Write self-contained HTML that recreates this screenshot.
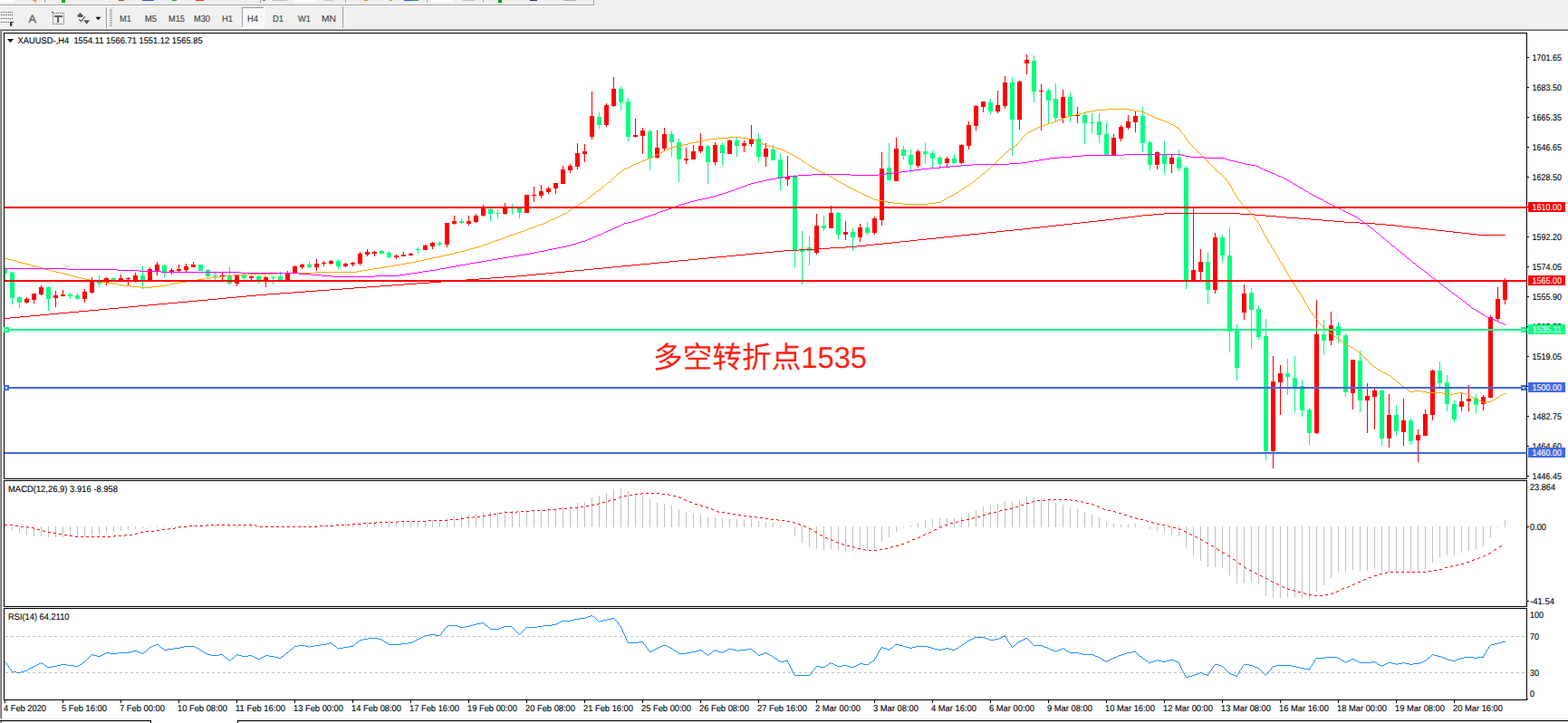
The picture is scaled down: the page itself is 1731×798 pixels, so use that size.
<!DOCTYPE html>
<html><head><meta charset="utf-8"><title>XAUUSD H4</title><style>html,body{margin:0;padding:0;background:#F0F0F0;overflow:hidden}body{width:1731px;height:798px;font-family:"Liberation Sans",sans-serif}</style></head><body><svg width="1731" height="798" viewBox="0 0 1731 798" font-family="Liberation Sans, sans-serif" text-rendering="geometricPrecision" style="display:block">
<rect width="1731" height="798" fill="#F0F0F0"/>
<g shape-rendering="crispEdges">
<rect x="0" y="5" width="655" height="1" fill="#A0A0A0"/><rect x="0" y="6" width="655" height="1" fill="#FFFFFF"/><rect x="655" y="0" width="1" height="6" fill="#A0A0A0"/>
<rect x="49" y="0" width="1" height="3" fill="#A0A0A0"/>
<rect x="287" y="0" width="1" height="3" fill="#A0A0A0"/>
<rect x="381" y="0" width="1" height="3" fill="#A0A0A0"/>
<rect x="471" y="0" width="1" height="3" fill="#A0A0A0"/>
<rect x="533" y="0" width="1" height="3" fill="#A0A0A0"/>
<rect x="0" y="0" width="16" height="2" fill="#FFFFFF"/>
<rect x="68" y="0" width="4" height="3" fill="#10B010"/>
<rect x="131" y="0" width="6" height="1" fill="#A05010"/>
<rect x="157" y="0" width="13" height="1" fill="#4060B0"/>
<rect x="190" y="0" width="5" height="1" fill="#20A020"/>
<rect x="216" y="0" width="9" height="1" fill="#D04020"/>
<rect x="290" y="0" width="3" height="1" fill="#808080"/>
<rect x="301" y="0" width="16" height="1" fill="#C0C0C0"/>
<rect x="325" y="0" width="24" height="2" fill="#FFFFFF"/>
<rect x="358" y="0" width="10" height="1" fill="#C8C8C8"/>
<rect x="402" y="0" width="4" height="1" fill="#E09020"/>
<rect x="430" y="0" width="3" height="1" fill="#E09020"/>
<rect x="446" y="0" width="9" height="1" fill="#2060D0"/>
<rect x="455" y="0" width="7" height="1" fill="#30A030"/>
<rect x="476" y="0" width="25" height="2" fill="#FFFFFF"/>
<rect x="511" y="0" width="13" height="1" fill="#C0C0C0"/>
<rect x="550" y="0" width="4" height="3" fill="#10A010"/>
<rect x="585" y="0" width="8" height="1" fill="#203870"/>
<rect x="622" y="0" width="14" height="1" fill="#B0B0B0"/>
<path d="M35 0 h5.5 l-1 2.6 z" fill="#E0A020"/>
<rect x="117" y="8" width="1" height="24" fill="#A0A0A0"/><rect x="118" y="8" width="1" height="24" fill="#FFFFFF"/>
<rect x="378" y="7" width="1" height="25" fill="#A0A0A0"/>
<rect x="121" y="10" width="3" height="1" fill="#A0A0A0"/>
<rect x="121" y="12" width="3" height="1" fill="#A0A0A0"/>
<rect x="121" y="14" width="3" height="1" fill="#A0A0A0"/>
<rect x="121" y="16" width="3" height="1" fill="#A0A0A0"/>
<rect x="121" y="18" width="3" height="1" fill="#A0A0A0"/>
<rect x="121" y="20" width="3" height="1" fill="#A0A0A0"/>
<rect x="121" y="22" width="3" height="1" fill="#A0A0A0"/>
<rect x="121" y="24" width="3" height="1" fill="#A0A0A0"/>
<rect x="121" y="26" width="3" height="1" fill="#A0A0A0"/>
<rect x="121" y="28" width="3" height="1" fill="#A0A0A0"/>
<rect x="267" y="8" width="25" height="23" fill="#F8F8F8"/><rect x="267" y="8" width="25" height="1" fill="#A0A0A0"/><rect x="267" y="8" width="1" height="23" fill="#A0A0A0"/><rect x="291" y="8" width="1" height="23" fill="#FFFFFF"/><rect x="267" y="30" width="25" height="1" fill="#FFFFFF"/>
<rect x="1" y="13" width="1" height="1" fill="#505050"/>
<rect x="3" y="13" width="1" height="1" fill="#505050"/>
<rect x="5" y="13" width="1" height="1" fill="#505050"/>
<rect x="7" y="13" width="1" height="1" fill="#505050"/>
<rect x="9" y="13" width="1" height="1" fill="#505050"/>
<rect x="11" y="13" width="1" height="1" fill="#505050"/>
<rect x="13" y="13" width="1" height="1" fill="#505050"/>
<rect x="1" y="16" width="1" height="1" fill="#505050"/>
<rect x="3" y="16" width="1" height="1" fill="#505050"/>
<rect x="5" y="16" width="1" height="1" fill="#505050"/>
<rect x="7" y="16" width="1" height="1" fill="#505050"/>
<rect x="9" y="16" width="1" height="1" fill="#505050"/>
<rect x="11" y="16" width="1" height="1" fill="#505050"/>
<rect x="13" y="16" width="1" height="1" fill="#505050"/>
<rect x="1" y="20" width="1" height="1" fill="#505050"/>
<rect x="3" y="20" width="1" height="1" fill="#505050"/>
<rect x="5" y="20" width="1" height="1" fill="#505050"/>
<rect x="7" y="20" width="1" height="1" fill="#505050"/>
<rect x="9" y="20" width="1" height="1" fill="#505050"/>
<rect x="11" y="20" width="1" height="1" fill="#505050"/>
<rect x="13" y="20" width="1" height="1" fill="#505050"/>
<rect x="1" y="24" width="1" height="1" fill="#505050"/>
<rect x="3" y="24" width="1" height="1" fill="#505050"/>
<rect x="5" y="24" width="1" height="1" fill="#505050"/>
<rect x="7" y="24" width="1" height="1" fill="#505050"/>
<rect x="9" y="24" width="1" height="1" fill="#505050"/>
<rect x="11" y="24" width="1.5" height="5" fill="#404040"/><rect x="11" y="24" width="4" height="1.2" fill="#404040"/><rect x="11" y="26" width="3" height="1" fill="#404040"/>
<rect x="58" y="14" width="1" height="1" fill="#505050"/><rect x="58" y="26" width="1" height="1" fill="#505050"/>
<rect x="60" y="14" width="1" height="1" fill="#505050"/><rect x="60" y="26" width="1" height="1" fill="#505050"/>
<rect x="62" y="14" width="1" height="1" fill="#505050"/><rect x="62" y="26" width="1" height="1" fill="#505050"/>
<rect x="64" y="14" width="1" height="1" fill="#505050"/><rect x="64" y="26" width="1" height="1" fill="#505050"/>
<rect x="66" y="14" width="1" height="1" fill="#505050"/><rect x="66" y="26" width="1" height="1" fill="#505050"/>
<rect x="68" y="14" width="1" height="1" fill="#505050"/><rect x="68" y="26" width="1" height="1" fill="#505050"/>
<rect x="70" y="14" width="1" height="1" fill="#505050"/><rect x="70" y="26" width="1" height="1" fill="#505050"/>
<rect x="58" y="14" width="1" height="1" fill="#505050"/><rect x="70" y="14" width="1" height="1" fill="#505050"/>
<rect x="58" y="16" width="1" height="1" fill="#505050"/><rect x="70" y="16" width="1" height="1" fill="#505050"/>
<rect x="58" y="18" width="1" height="1" fill="#505050"/><rect x="70" y="18" width="1" height="1" fill="#505050"/>
<rect x="58" y="20" width="1" height="1" fill="#505050"/><rect x="70" y="20" width="1" height="1" fill="#505050"/>
<rect x="58" y="22" width="1" height="1" fill="#505050"/><rect x="70" y="22" width="1" height="1" fill="#505050"/>
<rect x="58" y="24" width="1" height="1" fill="#505050"/><rect x="70" y="24" width="1" height="1" fill="#505050"/>
<rect x="58" y="26" width="1" height="1" fill="#505050"/><rect x="70" y="26" width="1" height="1" fill="#505050"/>
<rect x="57" y="13" width="2" height="1" fill="#505050"/>
<rect x="60" y="17" width="8.5" height="1.8" fill="#606060"/><rect x="63" y="17" width="2.2" height="7.7" fill="#606060"/>
</g>
<text transform="translate(31.6 25) scale(1 1)" fill="#606060" font-size="12.5" text-anchor="start" stroke="#606060" stroke-width="0.35">A</text>
<path d="M85 17.6 l3.6 -3.6 l3.6 3.6 l-1.6 1.4 h-4 z M92.2 22.3 h7 l-3.5 4.5 z" fill="#585858"/><path d="M87.3 21.6 l2.2 2 l4.2 -5.2" stroke="#585858" stroke-width="1.3" fill="none"/>
<path d="M105.6 18.8 h5.8 l-2.9 3.5 z" fill="#000"/>
<text transform="translate(132 24) scale(1 1)" fill="#404040" font-size="10.2" text-anchor="start" textLength="13" lengthAdjust="spacingAndGlyphs" stroke="#404040" stroke-width="0.12">M1</text>
<text transform="translate(160 24) scale(1 1)" fill="#404040" font-size="10.2" text-anchor="start" textLength="13" lengthAdjust="spacingAndGlyphs" stroke="#404040" stroke-width="0.12">M5</text>
<text transform="translate(186 24) scale(1 1)" fill="#404040" font-size="10.2" text-anchor="start" textLength="18" lengthAdjust="spacingAndGlyphs" stroke="#404040" stroke-width="0.12">M15</text>
<text transform="translate(214 24) scale(1 1)" fill="#404040" font-size="10.2" text-anchor="start" textLength="18" lengthAdjust="spacingAndGlyphs" stroke="#404040" stroke-width="0.12">M30</text>
<text transform="translate(245 24) scale(1 1)" fill="#404040" font-size="10.2" text-anchor="start" textLength="12" lengthAdjust="spacingAndGlyphs" stroke="#404040" stroke-width="0.12">H1</text>
<text transform="translate(273 24) scale(1 1)" fill="#404040" font-size="10.2" text-anchor="start" textLength="12" lengthAdjust="spacingAndGlyphs" stroke="#404040" stroke-width="0.12">H4</text>
<text transform="translate(301 24) scale(1 1)" fill="#404040" font-size="10.2" text-anchor="start" textLength="12" lengthAdjust="spacingAndGlyphs" stroke="#404040" stroke-width="0.12">D1</text>
<text transform="translate(329 24) scale(1 1)" fill="#404040" font-size="10.2" text-anchor="start" textLength="14" lengthAdjust="spacingAndGlyphs" stroke="#404040" stroke-width="0.12">W1</text>
<text transform="translate(355 24) scale(1 1)" fill="#404040" font-size="10.2" text-anchor="start" textLength="16" lengthAdjust="spacingAndGlyphs" stroke="#404040" stroke-width="0.12">MN</text>
<g shape-rendering="crispEdges">
<rect x="0" y="31" width="1731" height="1" fill="#F6F6F6"/><rect x="0" y="32" width="1731" height="1" fill="#A0A0A0"/><rect x="0" y="33" width="1731" height="1" fill="#696969"/>
<rect x="0" y="32" width="1" height="766" fill="#A0A0A0"/><rect x="1" y="33" width="1" height="765" fill="#696969"/>
<rect x="2" y="34" width="1729" height="759" fill="#FFFFFF"/>
<rect x="4" y="36" width="1682" height="1" fill="#000"/>
<rect x="4" y="528" width="1682" height="1" fill="#000"/>
<rect x="4" y="36" width="1" height="493" fill="#000"/>
<rect x="1685" y="36" width="1" height="493" fill="#000"/>
<rect x="4" y="530" width="1682" height="1" fill="#000"/>
<rect x="4" y="669" width="1682" height="1" fill="#000"/>
<rect x="4" y="530" width="1" height="140" fill="#000"/>
<rect x="1685" y="530" width="1" height="140" fill="#000"/>
<rect x="4" y="671" width="1682" height="1" fill="#000"/>
<rect x="4" y="772" width="1682" height="1" fill="#000"/>
<rect x="4" y="671" width="1" height="102" fill="#000"/>
<rect x="1685" y="671" width="1" height="102" fill="#000"/>
<rect x="0" y="793" width="1731" height="2" fill="#EAEAEA"/>
<rect x="0" y="795" width="1731" height="3" fill="#F0F0F0"/>
<rect x="0" y="795" width="167" height="1" fill="#000"/>
<rect x="262" y="795" width="1469" height="1" fill="#000"/>
<rect x="166" y="795" width="1" height="3" fill="#000"/>
<rect x="262" y="795" width="1" height="3" fill="#000"/>
<rect x="0" y="796" width="1" height="2" fill="#A0A0A0"/>
<rect x="1" y="796" width="1" height="2" fill="#808080"/>
<rect x="167" y="793" width="95" height="5" fill="#FFFFFF"/>
<rect x="1686" y="63" width="2" height="1" fill="#000"/>
<rect x="1686" y="96" width="2" height="1" fill="#000"/>
<rect x="1686" y="129" width="2" height="1" fill="#000"/>
<rect x="1686" y="162" width="2" height="1" fill="#000"/>
<rect x="1686" y="195" width="2" height="1" fill="#000"/>
<rect x="1686" y="228" width="2" height="1" fill="#000"/>
<rect x="1686" y="261" width="2" height="1" fill="#000"/>
<rect x="1686" y="294" width="2" height="1" fill="#000"/>
<rect x="1686" y="327" width="2" height="1" fill="#000"/>
<rect x="1686" y="360" width="2" height="1" fill="#000"/>
<rect x="1686" y="393" width="2" height="1" fill="#000"/>
<rect x="1686" y="426" width="2" height="1" fill="#000"/>
<rect x="1686" y="459" width="2" height="1" fill="#000"/>
<rect x="1686" y="492" width="2" height="1" fill="#000"/>
<rect x="1686" y="525" width="2" height="1" fill="#000"/>
<rect x="1686" y="581" width="2" height="1" fill="#000"/>
<rect x="1686" y="663" width="2" height="1" fill="#000"/>
<rect x="1686" y="771" width="1" height="1" fill="#000"/>
<rect x="5" y="773" width="1" height="3" fill="#000"/>
<rect x="69" y="773" width="1" height="3" fill="#000"/>
<rect x="133" y="773" width="1" height="3" fill="#000"/>
<rect x="197" y="773" width="1" height="3" fill="#000"/>
<rect x="261" y="773" width="1" height="3" fill="#000"/>
<rect x="325" y="773" width="1" height="3" fill="#000"/>
<rect x="389" y="773" width="1" height="3" fill="#000"/>
<rect x="453" y="773" width="1" height="3" fill="#000"/>
<rect x="517" y="773" width="1" height="3" fill="#000"/>
<rect x="581" y="773" width="1" height="3" fill="#000"/>
<rect x="645" y="773" width="1" height="3" fill="#000"/>
<rect x="709" y="773" width="1" height="3" fill="#000"/>
<rect x="773" y="773" width="1" height="3" fill="#000"/>
<rect x="837" y="773" width="1" height="3" fill="#000"/>
<rect x="901" y="773" width="1" height="3" fill="#000"/>
<rect x="965" y="773" width="1" height="3" fill="#000"/>
<rect x="1029" y="773" width="1" height="3" fill="#000"/>
<rect x="1093" y="773" width="1" height="3" fill="#000"/>
<rect x="1157" y="773" width="1" height="3" fill="#000"/>
<rect x="1221" y="773" width="1" height="3" fill="#000"/>
<rect x="1285" y="773" width="1" height="3" fill="#000"/>
<rect x="1349" y="773" width="1" height="3" fill="#000"/>
<rect x="1413" y="773" width="1" height="3" fill="#000"/>
<rect x="1477" y="773" width="1" height="3" fill="#000"/>
<rect x="1541" y="773" width="1" height="3" fill="#000"/>
<rect x="1605" y="773" width="1" height="3" fill="#000"/>
</g>
<text transform="translate(1691.6 67) scale(1 1)" fill="#000" font-size="9.8" text-anchor="start" textLength="32.3" lengthAdjust="spacingAndGlyphs" stroke="#000" stroke-width="0.12">1701.65</text>
<text transform="translate(1691.6 100) scale(1 1)" fill="#000" font-size="9.8" text-anchor="start" textLength="32.3" lengthAdjust="spacingAndGlyphs" stroke="#000" stroke-width="0.12">1683.50</text>
<text transform="translate(1691.6 133) scale(1 1)" fill="#000" font-size="9.8" text-anchor="start" textLength="32.3" lengthAdjust="spacingAndGlyphs" stroke="#000" stroke-width="0.12">1665.35</text>
<text transform="translate(1691.6 166) scale(1 1)" fill="#000" font-size="9.8" text-anchor="start" textLength="32.3" lengthAdjust="spacingAndGlyphs" stroke="#000" stroke-width="0.12">1646.65</text>
<text transform="translate(1691.6 199) scale(1 1)" fill="#000" font-size="9.8" text-anchor="start" textLength="32.3" lengthAdjust="spacingAndGlyphs" stroke="#000" stroke-width="0.12">1628.50</text>
<text transform="translate(1691.6 232) scale(1 1)" fill="#000" font-size="9.8" text-anchor="start" textLength="32.3" lengthAdjust="spacingAndGlyphs" stroke="#000" stroke-width="0.12">1610.35</text>
<text transform="translate(1691.6 265) scale(1 1)" fill="#000" font-size="9.8" text-anchor="start" textLength="32.3" lengthAdjust="spacingAndGlyphs" stroke="#000" stroke-width="0.12">1592.20</text>
<text transform="translate(1691.6 298) scale(1 1)" fill="#000" font-size="9.8" text-anchor="start" textLength="32.3" lengthAdjust="spacingAndGlyphs" stroke="#000" stroke-width="0.12">1574.05</text>
<text transform="translate(1691.6 331) scale(1 1)" fill="#000" font-size="9.8" text-anchor="start" textLength="32.3" lengthAdjust="spacingAndGlyphs" stroke="#000" stroke-width="0.12">1555.90</text>
<text transform="translate(1691.6 364) scale(1 1)" fill="#000" font-size="9.8" text-anchor="start" textLength="32.3" lengthAdjust="spacingAndGlyphs" stroke="#000" stroke-width="0.12">1537.75</text>
<text transform="translate(1691.6 397) scale(1 1)" fill="#000" font-size="9.8" text-anchor="start" textLength="32.3" lengthAdjust="spacingAndGlyphs" stroke="#000" stroke-width="0.12">1519.05</text>
<text transform="translate(1691.6 430) scale(1 1)" fill="#000" font-size="9.8" text-anchor="start" textLength="32.3" lengthAdjust="spacingAndGlyphs" stroke="#000" stroke-width="0.12">1500.90</text>
<text transform="translate(1691.6 463) scale(1 1)" fill="#000" font-size="9.8" text-anchor="start" textLength="32.3" lengthAdjust="spacingAndGlyphs" stroke="#000" stroke-width="0.12">1482.75</text>
<text transform="translate(1691.6 496) scale(1 1)" fill="#000" font-size="9.8" text-anchor="start" textLength="32.3" lengthAdjust="spacingAndGlyphs" stroke="#000" stroke-width="0.12">1464.60</text>
<text transform="translate(1691.6 529) scale(1 1)" fill="#000" font-size="9.8" text-anchor="start" textLength="32.3" lengthAdjust="spacingAndGlyphs" stroke="#000" stroke-width="0.12">1446.45</text>
<text transform="translate(1689 541.3) scale(1 1)" fill="#000" font-size="9.8" text-anchor="start" textLength="28" lengthAdjust="spacingAndGlyphs" stroke="#000" stroke-width="0.12">23.864</text>
<text transform="translate(1689 585) scale(1 1)" fill="#000" font-size="9.8" text-anchor="start" textLength="18" lengthAdjust="spacingAndGlyphs" stroke="#000" stroke-width="0.12">0.00</text>
<text transform="translate(1689 666.7) scale(1 1)" fill="#000" font-size="9.8" text-anchor="start" textLength="27" lengthAdjust="spacingAndGlyphs" stroke="#000" stroke-width="0.12">-41.54</text>
<text transform="translate(1689 682.3) scale(1 1)" fill="#000" font-size="9.8" text-anchor="start" textLength="15" lengthAdjust="spacingAndGlyphs" stroke="#000" stroke-width="0.12">100</text>
<text transform="translate(1689 706.3) scale(1 1)" fill="#000" font-size="9.8" text-anchor="start" textLength="10" lengthAdjust="spacingAndGlyphs" stroke="#000" stroke-width="0.12">70</text>
<text transform="translate(1689 746.3) scale(1 1)" fill="#000" font-size="9.8" text-anchor="start" textLength="10" lengthAdjust="spacingAndGlyphs" stroke="#000" stroke-width="0.12">30</text>
<text transform="translate(1689 769.3) scale(1 1)" fill="#000" font-size="9.8" text-anchor="start" textLength="5" lengthAdjust="spacingAndGlyphs" stroke="#000" stroke-width="0.12">0</text>
<text transform="translate(4 785) scale(1 1)" fill="#000" font-size="9.8" text-anchor="start" textLength="47" lengthAdjust="spacingAndGlyphs" stroke="#000" stroke-width="0.12">4 Feb 2020</text>
<text transform="translate(68 785) scale(1 1)" fill="#000" font-size="9.8" text-anchor="start" textLength="50" lengthAdjust="spacingAndGlyphs" stroke="#000" stroke-width="0.12">5 Feb 16:00</text>
<text transform="translate(132 785) scale(1 1)" fill="#000" font-size="9.8" text-anchor="start" textLength="50" lengthAdjust="spacingAndGlyphs" stroke="#000" stroke-width="0.12">7 Feb 00:00</text>
<text transform="translate(196 785) scale(1 1)" fill="#000" font-size="9.8" text-anchor="start" textLength="55" lengthAdjust="spacingAndGlyphs" stroke="#000" stroke-width="0.12">10 Feb 08:00</text>
<text transform="translate(260 785) scale(1 1)" fill="#000" font-size="9.8" text-anchor="start" textLength="55" lengthAdjust="spacingAndGlyphs" stroke="#000" stroke-width="0.12">11 Feb 16:00</text>
<text transform="translate(324 785) scale(1 1)" fill="#000" font-size="9.8" text-anchor="start" textLength="55" lengthAdjust="spacingAndGlyphs" stroke="#000" stroke-width="0.12">13 Feb 00:00</text>
<text transform="translate(388 785) scale(1 1)" fill="#000" font-size="9.8" text-anchor="start" textLength="55" lengthAdjust="spacingAndGlyphs" stroke="#000" stroke-width="0.12">14 Feb 08:00</text>
<text transform="translate(452 785) scale(1 1)" fill="#000" font-size="9.8" text-anchor="start" textLength="55" lengthAdjust="spacingAndGlyphs" stroke="#000" stroke-width="0.12">17 Feb 16:00</text>
<text transform="translate(516 785) scale(1 1)" fill="#000" font-size="9.8" text-anchor="start" textLength="55" lengthAdjust="spacingAndGlyphs" stroke="#000" stroke-width="0.12">19 Feb 00:00</text>
<text transform="translate(580 785) scale(1 1)" fill="#000" font-size="9.8" text-anchor="start" textLength="55" lengthAdjust="spacingAndGlyphs" stroke="#000" stroke-width="0.12">20 Feb 08:00</text>
<text transform="translate(644 785) scale(1 1)" fill="#000" font-size="9.8" text-anchor="start" textLength="55" lengthAdjust="spacingAndGlyphs" stroke="#000" stroke-width="0.12">21 Feb 16:00</text>
<text transform="translate(708 785) scale(1 1)" fill="#000" font-size="9.8" text-anchor="start" textLength="55" lengthAdjust="spacingAndGlyphs" stroke="#000" stroke-width="0.12">25 Feb 00:00</text>
<text transform="translate(772 785) scale(1 1)" fill="#000" font-size="9.8" text-anchor="start" textLength="55" lengthAdjust="spacingAndGlyphs" stroke="#000" stroke-width="0.12">26 Feb 08:00</text>
<text transform="translate(836 785) scale(1 1)" fill="#000" font-size="9.8" text-anchor="start" textLength="55" lengthAdjust="spacingAndGlyphs" stroke="#000" stroke-width="0.12">27 Feb 16:00</text>
<text transform="translate(900 785) scale(1 1)" fill="#000" font-size="9.8" text-anchor="start" textLength="50" lengthAdjust="spacingAndGlyphs" stroke="#000" stroke-width="0.12">2 Mar 00:00</text>
<text transform="translate(964 785) scale(1 1)" fill="#000" font-size="9.8" text-anchor="start" textLength="50" lengthAdjust="spacingAndGlyphs" stroke="#000" stroke-width="0.12">3 Mar 08:00</text>
<text transform="translate(1028 785) scale(1 1)" fill="#000" font-size="9.8" text-anchor="start" textLength="50" lengthAdjust="spacingAndGlyphs" stroke="#000" stroke-width="0.12">4 Mar 16:00</text>
<text transform="translate(1092 785) scale(1 1)" fill="#000" font-size="9.8" text-anchor="start" textLength="50" lengthAdjust="spacingAndGlyphs" stroke="#000" stroke-width="0.12">6 Mar 00:00</text>
<text transform="translate(1156 785) scale(1 1)" fill="#000" font-size="9.8" text-anchor="start" textLength="50" lengthAdjust="spacingAndGlyphs" stroke="#000" stroke-width="0.12">9 Mar 08:00</text>
<text transform="translate(1220 785) scale(1 1)" fill="#000" font-size="9.8" text-anchor="start" textLength="55" lengthAdjust="spacingAndGlyphs" stroke="#000" stroke-width="0.12">10 Mar 16:00</text>
<text transform="translate(1284 785) scale(1 1)" fill="#000" font-size="9.8" text-anchor="start" textLength="55" lengthAdjust="spacingAndGlyphs" stroke="#000" stroke-width="0.12">12 Mar 00:00</text>
<text transform="translate(1348 785) scale(1 1)" fill="#000" font-size="9.8" text-anchor="start" textLength="55" lengthAdjust="spacingAndGlyphs" stroke="#000" stroke-width="0.12">13 Mar 08:00</text>
<text transform="translate(1412 785) scale(1 1)" fill="#000" font-size="9.8" text-anchor="start" textLength="55" lengthAdjust="spacingAndGlyphs" stroke="#000" stroke-width="0.12">16 Mar 16:00</text>
<text transform="translate(1476 785) scale(1 1)" fill="#000" font-size="9.8" text-anchor="start" textLength="55" lengthAdjust="spacingAndGlyphs" stroke="#000" stroke-width="0.12">18 Mar 00:00</text>
<text transform="translate(1540 785) scale(1 1)" fill="#000" font-size="9.8" text-anchor="start" textLength="55" lengthAdjust="spacingAndGlyphs" stroke="#000" stroke-width="0.12">19 Mar 08:00</text>
<text transform="translate(1604 785) scale(1 1)" fill="#000" font-size="9.8" text-anchor="start" textLength="55" lengthAdjust="spacingAndGlyphs" stroke="#000" stroke-width="0.12">20 Mar 16:00</text>
<path d="M8 43 h7 l-3.5 4 z" fill="#000"/>
<text transform="translate(19.6 48) scale(1 1)" fill="#000" font-size="9.8" text-anchor="start" textLength="204" lengthAdjust="spacingAndGlyphs" stroke="#000" stroke-width="0.12">XAUUSD-,H4&#160;&#160;1554.11 1566.71 1551.12 1565.85</text>
<text transform="translate(9 543) scale(1 1)" fill="#000" font-size="9.8" text-anchor="start" textLength="121" lengthAdjust="spacingAndGlyphs" stroke="#000" stroke-width="0.12">MACD(12,26,9) 3.916 -8.958</text>
<text transform="translate(9 684.2) scale(1 1)" fill="#000" font-size="9.8" text-anchor="start" textLength="67.5" lengthAdjust="spacingAndGlyphs" stroke="#000" stroke-width="0.12">RSI(14) 64.2110</text>
<defs><clipPath id="c1"><rect x="5" y="37" width="1681" height="491"/></clipPath><clipPath id="c2"><rect x="5" y="531" width="1680" height="138"/></clipPath><clipPath id="c3"><rect x="5" y="672" width="1680" height="100"/></clipPath></defs>
<g clip-path="url(#c1)">
<g shape-rendering="crispEdges">
<rect x="5" y="295" width="1" height="15" fill="#00FF7F"/><rect x="3" y="297" width="5" height="5" fill="#00FF7F"/>
<rect x="13" y="300" width="1" height="36" fill="#00FF7F"/><rect x="11" y="301" width="5" height="28" fill="#00FF7F"/>
<rect x="21" y="327" width="1" height="13" fill="#00FF7F"/><rect x="19" y="328" width="5" height="6" fill="#00FF7F"/>
<rect x="29" y="328" width="1" height="7" fill="#FF0000"/><rect x="27" y="330" width="5" height="4" fill="#FF0000"/>
<rect x="37" y="324" width="1" height="11" fill="#FF0000"/><rect x="35" y="324" width="5" height="7" fill="#FF0000"/>
<rect x="45" y="315" width="1" height="11" fill="#FF0000"/><rect x="43" y="317" width="5" height="8" fill="#FF0000"/>
<rect x="53" y="316" width="1" height="27" fill="#00FF7F"/><rect x="51" y="317" width="5" height="13" fill="#00FF7F"/>
<rect x="61" y="321" width="1" height="18" fill="#FF0000"/><rect x="59" y="326" width="5" height="3" fill="#FF0000"/>
<rect x="69" y="320" width="1" height="7" fill="#FF0000"/><rect x="67" y="325" width="5" height="2" fill="#FF0000"/>
<rect x="77" y="323" width="1" height="7" fill="#00FF7F"/><rect x="75" y="325" width="5" height="2" fill="#00FF7F"/>
<rect x="85" y="323" width="1" height="8" fill="#00FF7F"/><rect x="83" y="326" width="5" height="4" fill="#00FF7F"/>
<rect x="93" y="319" width="1" height="15" fill="#FF0000"/><rect x="91" y="322" width="5" height="8" fill="#FF0000"/>
<rect x="101" y="306" width="1" height="18" fill="#FF0000"/><rect x="99" y="310" width="5" height="13" fill="#FF0000"/>
<rect x="109" y="304" width="1" height="13" fill="#00FF7F"/><rect x="107" y="311" width="5" height="2" fill="#00FF7F"/>
<rect x="117" y="306" width="1" height="9" fill="#FF0000"/><rect x="115" y="307" width="5" height="5" fill="#FF0000"/>
<rect x="125" y="306" width="1" height="3" fill="#00FF7F"/><rect x="123" y="307" width="5" height="2" fill="#00FF7F"/>
<rect x="133" y="303" width="1" height="7" fill="#FF0000"/><rect x="131" y="307" width="5" height="3" fill="#FF0000"/>
<rect x="141" y="306" width="1" height="9" fill="#FF0000"/><rect x="139" y="307" width="5" height="1" fill="#FF0000"/>
<rect x="149" y="301" width="1" height="11" fill="#FF0000"/><rect x="147" y="304" width="5" height="7" fill="#FF0000"/>
<rect x="157" y="294" width="1" height="25" fill="#00FF7F"/><rect x="155" y="304" width="5" height="5" fill="#00FF7F"/>
<rect x="165" y="295" width="1" height="15" fill="#FF0000"/><rect x="163" y="297" width="5" height="13" fill="#FF0000"/>
<rect x="173" y="289" width="1" height="15" fill="#FF0000"/><rect x="171" y="292" width="5" height="7" fill="#FF0000"/>
<rect x="181" y="292" width="1" height="14" fill="#00FF7F"/><rect x="179" y="293" width="5" height="7" fill="#00FF7F"/>
<rect x="189" y="296" width="1" height="7" fill="#FF0000"/><rect x="187" y="298" width="5" height="2" fill="#FF0000"/>
<rect x="197" y="292" width="1" height="8" fill="#FF0000"/><rect x="195" y="297" width="5" height="2" fill="#FF0000"/>
<rect x="205" y="291" width="1" height="9" fill="#FF0000"/><rect x="203" y="294" width="5" height="4" fill="#FF0000"/>
<rect x="213" y="289" width="1" height="6" fill="#FF0000"/><rect x="211" y="292" width="5" height="3" fill="#FF0000"/>
<rect x="221" y="292" width="1" height="7" fill="#00FF7F"/><rect x="219" y="292" width="5" height="7" fill="#00FF7F"/>
<rect x="229" y="297" width="1" height="10" fill="#00FF7F"/><rect x="227" y="298" width="5" height="7" fill="#00FF7F"/>
<rect x="237" y="301" width="1" height="8" fill="#00FF7F"/><rect x="235" y="304" width="5" height="1" fill="#00FF7F"/>
<rect x="245" y="301" width="1" height="8" fill="#FF0000"/><rect x="243" y="304" width="5" height="1" fill="#FF0000"/>
<rect x="253" y="294" width="1" height="21" fill="#00FF7F"/><rect x="251" y="305" width="5" height="8" fill="#00FF7F"/>
<rect x="261" y="304" width="1" height="12" fill="#FF0000"/><rect x="259" y="304" width="5" height="9" fill="#FF0000"/>
<rect x="269" y="302" width="1" height="7" fill="#00FF7F"/><rect x="267" y="303" width="5" height="4" fill="#00FF7F"/>
<rect x="277" y="304" width="1" height="5" fill="#FF0000"/><rect x="275" y="305" width="5" height="2" fill="#FF0000"/>
<rect x="285" y="304" width="1" height="9" fill="#00FF7F"/><rect x="283" y="305" width="5" height="4" fill="#00FF7F"/>
<rect x="293" y="305" width="1" height="12" fill="#FF0000"/><rect x="291" y="306" width="5" height="4" fill="#FF0000"/>
<rect x="301" y="304" width="1" height="10" fill="#00FF7F"/><rect x="299" y="306" width="5" height="1" fill="#00FF7F"/>
<rect x="309" y="300" width="1" height="9" fill="#00FF7F"/><rect x="307" y="305" width="5" height="4" fill="#00FF7F"/>
<rect x="317" y="299" width="1" height="11" fill="#FF0000"/><rect x="315" y="301" width="5" height="9" fill="#FF0000"/>
<rect x="325" y="293" width="1" height="9" fill="#FF0000"/><rect x="323" y="294" width="5" height="8" fill="#FF0000"/>
<rect x="333" y="291" width="1" height="6" fill="#FF0000"/><rect x="331" y="292" width="5" height="3" fill="#FF0000"/>
<rect x="341" y="288" width="1" height="8" fill="#00FF7F"/><rect x="339" y="292" width="5" height="3" fill="#00FF7F"/>
<rect x="349" y="286" width="1" height="13" fill="#FF0000"/><rect x="347" y="291" width="5" height="4" fill="#FF0000"/>
<rect x="357" y="288" width="1" height="6" fill="#FF0000"/><rect x="355" y="290" width="5" height="1" fill="#FF0000"/>
<rect x="365" y="287" width="1" height="5" fill="#FF0000"/><rect x="363" y="288" width="5" height="3" fill="#FF0000"/>
<rect x="373" y="286" width="1" height="11" fill="#00FF7F"/><rect x="371" y="288" width="5" height="6" fill="#00FF7F"/>
<rect x="381" y="290" width="1" height="5" fill="#FF0000"/><rect x="379" y="291" width="5" height="3" fill="#FF0000"/>
<rect x="389" y="289" width="1" height="5" fill="#FF0000"/><rect x="387" y="290" width="5" height="2" fill="#FF0000"/>
<rect x="397" y="278" width="1" height="15" fill="#FF0000"/><rect x="395" y="280" width="5" height="11" fill="#FF0000"/>
<rect x="405" y="275" width="1" height="8" fill="#FF0000"/><rect x="403" y="278" width="5" height="3" fill="#FF0000"/>
<rect x="413" y="277" width="1" height="6" fill="#FF0000"/><rect x="411" y="278" width="5" height="2" fill="#FF0000"/>
<rect x="421" y="276" width="1" height="5" fill="#00FF7F"/><rect x="419" y="277" width="5" height="3" fill="#00FF7F"/>
<rect x="429" y="277" width="1" height="8" fill="#00FF7F"/><rect x="427" y="279" width="5" height="5" fill="#00FF7F"/>
<rect x="437" y="281" width="1" height="5" fill="#FF0000"/><rect x="435" y="282" width="5" height="2" fill="#FF0000"/>
<rect x="445" y="278" width="1" height="5" fill="#FF0000"/><rect x="443" y="281" width="5" height="2" fill="#FF0000"/>
<rect x="453" y="279" width="1" height="3" fill="#FF0000"/><rect x="451" y="280" width="5" height="2" fill="#FF0000"/>
<rect x="461" y="273" width="1" height="7" fill="#00FF7F"/><rect x="459" y="275" width="5" height="1" fill="#00FF7F"/>
<rect x="469" y="270" width="1" height="6" fill="#FF0000"/><rect x="467" y="271" width="5" height="5" fill="#FF0000"/>
<rect x="477" y="267" width="1" height="8" fill="#FF0000"/><rect x="475" y="268" width="5" height="4" fill="#FF0000"/>
<rect x="485" y="266" width="1" height="6" fill="#00FF7F"/><rect x="483" y="268" width="5" height="2" fill="#00FF7F"/>
<rect x="493" y="246" width="1" height="27" fill="#FF0000"/><rect x="491" y="246" width="5" height="24" fill="#FF0000"/>
<rect x="501" y="238" width="1" height="10" fill="#FF0000"/><rect x="499" y="244" width="5" height="3" fill="#FF0000"/>
<rect x="509" y="241" width="1" height="6" fill="#00FF7F"/><rect x="507" y="244" width="5" height="2" fill="#00FF7F"/>
<rect x="517" y="238" width="1" height="11" fill="#FF0000"/><rect x="515" y="244" width="5" height="3" fill="#FF0000"/>
<rect x="525" y="236" width="1" height="10" fill="#FF0000"/><rect x="523" y="238" width="5" height="7" fill="#FF0000"/>
<rect x="533" y="226" width="1" height="13" fill="#FF0000"/><rect x="531" y="230" width="5" height="8" fill="#FF0000"/>
<rect x="541" y="229" width="1" height="15" fill="#00FF7F"/><rect x="539" y="231" width="5" height="5" fill="#00FF7F"/>
<rect x="549" y="231" width="1" height="10" fill="#00FF7F"/><rect x="547" y="235" width="5" height="1" fill="#00FF7F"/>
<rect x="557" y="224" width="1" height="13" fill="#FF0000"/><rect x="555" y="230" width="5" height="6" fill="#FF0000"/>
<rect x="565" y="225" width="1" height="12" fill="#00FF7F"/><rect x="563" y="229" width="5" height="1" fill="#00FF7F"/>
<rect x="573" y="230" width="1" height="11" fill="#00FF7F"/><rect x="571" y="230" width="5" height="5" fill="#00FF7F"/>
<rect x="581" y="215" width="1" height="20" fill="#FF0000"/><rect x="579" y="215" width="5" height="20" fill="#FF0000"/>
<rect x="589" y="206" width="1" height="17" fill="#FF0000"/><rect x="587" y="215" width="5" height="1" fill="#FF0000"/>
<rect x="597" y="204" width="1" height="15" fill="#FF0000"/><rect x="595" y="211" width="5" height="5" fill="#FF0000"/>
<rect x="605" y="206" width="1" height="8" fill="#FF0000"/><rect x="603" y="208" width="5" height="4" fill="#FF0000"/>
<rect x="613" y="202" width="1" height="12" fill="#FF0000"/><rect x="611" y="202" width="5" height="6" fill="#FF0000"/>
<rect x="621" y="183" width="1" height="20" fill="#FF0000"/><rect x="619" y="187" width="5" height="16" fill="#FF0000"/>
<rect x="629" y="181" width="1" height="10" fill="#FF0000"/><rect x="627" y="183" width="5" height="5" fill="#FF0000"/>
<rect x="637" y="158" width="1" height="29" fill="#FF0000"/><rect x="635" y="169" width="5" height="15" fill="#FF0000"/>
<rect x="645" y="159" width="1" height="20" fill="#FF0000"/><rect x="643" y="167" width="5" height="3" fill="#FF0000"/>
<rect x="653" y="101" width="1" height="53" fill="#FF0000"/><rect x="651" y="128" width="5" height="23" fill="#FF0000"/>
<rect x="661" y="124" width="1" height="18" fill="#00FF7F"/><rect x="659" y="129" width="5" height="9" fill="#00FF7F"/>
<rect x="669" y="114" width="1" height="26" fill="#FF0000"/><rect x="667" y="116" width="5" height="22" fill="#FF0000"/>
<rect x="677" y="85" width="1" height="33" fill="#FF0000"/><rect x="675" y="98" width="5" height="19" fill="#FF0000"/>
<rect x="685" y="95" width="1" height="27" fill="#00FF7F"/><rect x="683" y="98" width="5" height="15" fill="#00FF7F"/>
<rect x="693" y="108" width="1" height="48" fill="#00FF7F"/><rect x="691" y="112" width="5" height="39" fill="#00FF7F"/>
<rect x="701" y="131" width="1" height="21" fill="#FF0000"/><rect x="699" y="149" width="5" height="2" fill="#FF0000"/>
<rect x="709" y="141" width="1" height="29" fill="#FF0000"/><rect x="707" y="144" width="5" height="6" fill="#FF0000"/>
<rect x="717" y="143" width="1" height="45" fill="#00FF7F"/><rect x="715" y="145" width="5" height="30" fill="#00FF7F"/>
<rect x="725" y="144" width="1" height="31" fill="#FF0000"/><rect x="723" y="163" width="5" height="11" fill="#FF0000"/>
<rect x="733" y="141" width="1" height="26" fill="#FF0000"/><rect x="731" y="148" width="5" height="16" fill="#FF0000"/>
<rect x="741" y="144" width="1" height="29" fill="#00FF7F"/><rect x="739" y="148" width="5" height="9" fill="#00FF7F"/>
<rect x="749" y="153" width="1" height="48" fill="#00FF7F"/><rect x="747" y="157" width="5" height="19" fill="#00FF7F"/>
<rect x="757" y="163" width="1" height="18" fill="#FF0000"/><rect x="755" y="175" width="5" height="2" fill="#FF0000"/>
<rect x="765" y="160" width="1" height="16" fill="#FF0000"/><rect x="763" y="167" width="5" height="9" fill="#FF0000"/>
<rect x="773" y="147" width="1" height="22" fill="#FF0000"/><rect x="771" y="161" width="5" height="6" fill="#FF0000"/>
<rect x="781" y="160" width="1" height="43" fill="#00FF7F"/><rect x="779" y="161" width="5" height="18" fill="#00FF7F"/>
<rect x="789" y="157" width="1" height="25" fill="#FF0000"/><rect x="787" y="160" width="5" height="19" fill="#FF0000"/>
<rect x="797" y="158" width="1" height="25" fill="#00FF7F"/><rect x="795" y="160" width="5" height="9" fill="#00FF7F"/>
<rect x="805" y="154" width="1" height="16" fill="#FF0000"/><rect x="803" y="155" width="5" height="15" fill="#FF0000"/>
<rect x="813" y="152" width="1" height="21" fill="#00FF7F"/><rect x="811" y="155" width="5" height="6" fill="#00FF7F"/>
<rect x="821" y="155" width="1" height="13" fill="#FF0000"/><rect x="819" y="158" width="5" height="3" fill="#FF0000"/>
<rect x="829" y="138" width="1" height="24" fill="#FF0000"/><rect x="827" y="153" width="5" height="6" fill="#FF0000"/>
<rect x="837" y="147" width="1" height="32" fill="#00FF7F"/><rect x="835" y="153" width="5" height="20" fill="#00FF7F"/>
<rect x="845" y="158" width="1" height="26" fill="#FF0000"/><rect x="843" y="164" width="5" height="9" fill="#FF0000"/>
<rect x="853" y="160" width="1" height="17" fill="#00FF7F"/><rect x="851" y="165" width="5" height="12" fill="#00FF7F"/>
<rect x="861" y="170" width="1" height="40" fill="#00FF7F"/><rect x="859" y="176" width="5" height="21" fill="#00FF7F"/>
<rect x="869" y="172" width="1" height="33" fill="#FF0000"/><rect x="867" y="195" width="5" height="3" fill="#FF0000"/>
<rect x="877" y="193" width="1" height="103" fill="#00FF7F"/><rect x="875" y="194" width="5" height="82" fill="#00FF7F"/>
<rect x="885" y="255" width="1" height="59" fill="#00FF7F"/><rect x="883" y="276" width="5" height="2" fill="#00FF7F"/>
<rect x="893" y="260" width="1" height="33" fill="#00FF7F"/><rect x="891" y="273" width="5" height="4" fill="#00FF7F"/>
<rect x="901" y="236" width="1" height="45" fill="#FF0000"/><rect x="899" y="249" width="5" height="30" fill="#FF0000"/>
<rect x="909" y="238" width="1" height="17" fill="#00FF7F"/><rect x="907" y="249" width="5" height="3" fill="#00FF7F"/>
<rect x="917" y="227" width="1" height="25" fill="#FF0000"/><rect x="915" y="235" width="5" height="17" fill="#FF0000"/>
<rect x="925" y="234" width="1" height="30" fill="#00FF7F"/><rect x="923" y="235" width="5" height="24" fill="#00FF7F"/>
<rect x="933" y="244" width="1" height="21" fill="#FF0000"/><rect x="931" y="256" width="5" height="3" fill="#FF0000"/>
<rect x="941" y="252" width="1" height="25" fill="#00FF7F"/><rect x="939" y="256" width="5" height="6" fill="#00FF7F"/>
<rect x="949" y="247" width="1" height="20" fill="#FF0000"/><rect x="947" y="251" width="5" height="11" fill="#FF0000"/>
<rect x="957" y="245" width="1" height="15" fill="#00FF7F"/><rect x="955" y="251" width="5" height="6" fill="#00FF7F"/>
<rect x="965" y="239" width="1" height="20" fill="#FF0000"/><rect x="963" y="241" width="5" height="16" fill="#FF0000"/>
<rect x="973" y="168" width="1" height="81" fill="#FF0000"/><rect x="971" y="186" width="5" height="57" fill="#FF0000"/>
<rect x="981" y="158" width="1" height="41" fill="#00FF7F"/><rect x="979" y="185" width="5" height="14" fill="#00FF7F"/>
<rect x="989" y="152" width="1" height="48" fill="#FF0000"/><rect x="987" y="164" width="5" height="36" fill="#FF0000"/>
<rect x="997" y="161" width="1" height="15" fill="#00FF7F"/><rect x="995" y="165" width="5" height="7" fill="#00FF7F"/>
<rect x="1005" y="165" width="1" height="25" fill="#00FF7F"/><rect x="1003" y="171" width="5" height="11" fill="#00FF7F"/>
<rect x="1013" y="165" width="1" height="20" fill="#FF0000"/><rect x="1011" y="167" width="5" height="16" fill="#FF0000"/>
<rect x="1021" y="158" width="1" height="23" fill="#00FF7F"/><rect x="1019" y="167" width="5" height="3" fill="#00FF7F"/>
<rect x="1029" y="166" width="1" height="20" fill="#00FF7F"/><rect x="1027" y="169" width="5" height="6" fill="#00FF7F"/>
<rect x="1037" y="172" width="1" height="13" fill="#00FF7F"/><rect x="1035" y="174" width="5" height="7" fill="#00FF7F"/>
<rect x="1045" y="173" width="1" height="11" fill="#FF0000"/><rect x="1043" y="175" width="5" height="5" fill="#FF0000"/>
<rect x="1053" y="170" width="1" height="11" fill="#00FF7F"/><rect x="1051" y="175" width="5" height="5" fill="#00FF7F"/>
<rect x="1061" y="159" width="1" height="22" fill="#FF0000"/><rect x="1059" y="160" width="5" height="20" fill="#FF0000"/>
<rect x="1069" y="134" width="1" height="31" fill="#FF0000"/><rect x="1067" y="138" width="5" height="23" fill="#FF0000"/>
<rect x="1077" y="116" width="1" height="28" fill="#FF0000"/><rect x="1075" y="117" width="5" height="22" fill="#FF0000"/>
<rect x="1085" y="112" width="1" height="12" fill="#FF0000"/><rect x="1083" y="112" width="5" height="6" fill="#FF0000"/>
<rect x="1093" y="109" width="1" height="17" fill="#00FF7F"/><rect x="1091" y="113" width="5" height="10" fill="#00FF7F"/>
<rect x="1101" y="100" width="1" height="25" fill="#FF0000"/><rect x="1099" y="116" width="5" height="7" fill="#FF0000"/>
<rect x="1109" y="84" width="1" height="36" fill="#FF0000"/><rect x="1107" y="91" width="5" height="26" fill="#FF0000"/>
<rect x="1117" y="85" width="1" height="87" fill="#00FF7F"/><rect x="1115" y="91" width="5" height="41" fill="#00FF7F"/>
<rect x="1125" y="89" width="1" height="54" fill="#FF0000"/><rect x="1123" y="90" width="5" height="42" fill="#FF0000"/>
<rect x="1133" y="60" width="1" height="22" fill="#FF0000"/><rect x="1131" y="66" width="5" height="4" fill="#FF0000"/>
<rect x="1141" y="61" width="1" height="52" fill="#00FF7F"/><rect x="1139" y="67" width="5" height="34" fill="#00FF7F"/>
<rect x="1149" y="93" width="1" height="51" fill="#FF0000"/><rect x="1147" y="100" width="5" height="1" fill="#FF0000"/>
<rect x="1157" y="98" width="1" height="38" fill="#00FF7F"/><rect x="1155" y="100" width="5" height="11" fill="#00FF7F"/>
<rect x="1165" y="92" width="1" height="42" fill="#00FF7F"/><rect x="1163" y="109" width="5" height="21" fill="#00FF7F"/>
<rect x="1173" y="99" width="1" height="37" fill="#FF0000"/><rect x="1171" y="107" width="5" height="23" fill="#FF0000"/>
<rect x="1181" y="102" width="1" height="33" fill="#00FF7F"/><rect x="1179" y="107" width="5" height="21" fill="#00FF7F"/>
<rect x="1189" y="118" width="1" height="18" fill="#FF0000"/><rect x="1187" y="127" width="5" height="1" fill="#FF0000"/>
<rect x="1197" y="125" width="1" height="34" fill="#00FF7F"/><rect x="1195" y="127" width="5" height="9" fill="#00FF7F"/>
<rect x="1205" y="125" width="1" height="22" fill="#00FF7F"/><rect x="1203" y="135" width="5" height="1" fill="#00FF7F"/>
<rect x="1213" y="125" width="1" height="33" fill="#00FF7F"/><rect x="1211" y="134" width="5" height="15" fill="#00FF7F"/>
<rect x="1221" y="135" width="1" height="36" fill="#00FF7F"/><rect x="1219" y="148" width="5" height="23" fill="#00FF7F"/>
<rect x="1229" y="148" width="1" height="23" fill="#FF0000"/><rect x="1227" y="152" width="5" height="19" fill="#FF0000"/>
<rect x="1237" y="138" width="1" height="18" fill="#FF0000"/><rect x="1235" y="140" width="5" height="13" fill="#FF0000"/>
<rect x="1245" y="127" width="1" height="16" fill="#FF0000"/><rect x="1243" y="134" width="5" height="7" fill="#FF0000"/>
<rect x="1253" y="123" width="1" height="23" fill="#FF0000"/><rect x="1251" y="128" width="5" height="7" fill="#FF0000"/>
<rect x="1261" y="118" width="1" height="50" fill="#00FF7F"/><rect x="1259" y="128" width="5" height="30" fill="#00FF7F"/>
<rect x="1269" y="155" width="1" height="33" fill="#00FF7F"/><rect x="1267" y="157" width="5" height="25" fill="#00FF7F"/>
<rect x="1277" y="167" width="1" height="20" fill="#FF0000"/><rect x="1275" y="168" width="5" height="14" fill="#FF0000"/>
<rect x="1285" y="156" width="1" height="36" fill="#00FF7F"/><rect x="1283" y="171" width="5" height="10" fill="#00FF7F"/>
<rect x="1293" y="171" width="1" height="20" fill="#FF0000"/><rect x="1291" y="174" width="5" height="7" fill="#FF0000"/>
<rect x="1301" y="165" width="1" height="24" fill="#00FF7F"/><rect x="1299" y="174" width="5" height="12" fill="#00FF7F"/>
<rect x="1309" y="184" width="1" height="135" fill="#00FF7F"/><rect x="1307" y="185" width="5" height="124" fill="#00FF7F"/>
<rect x="1317" y="229" width="1" height="80" fill="#FF0000"/><rect x="1315" y="298" width="5" height="11" fill="#FF0000"/>
<rect x="1325" y="275" width="1" height="34" fill="#FF0000"/><rect x="1323" y="289" width="5" height="11" fill="#FF0000"/>
<rect x="1333" y="278" width="1" height="58" fill="#00FF7F"/><rect x="1331" y="289" width="5" height="31" fill="#00FF7F"/>
<rect x="1341" y="257" width="1" height="67" fill="#FF0000"/><rect x="1339" y="262" width="5" height="58" fill="#FF0000"/>
<rect x="1349" y="259" width="1" height="30" fill="#00FF7F"/><rect x="1347" y="262" width="5" height="20" fill="#00FF7F"/>
<rect x="1357" y="251" width="1" height="138" fill="#00FF7F"/><rect x="1355" y="282" width="5" height="84" fill="#00FF7F"/>
<rect x="1365" y="358" width="1" height="62" fill="#00FF7F"/><rect x="1363" y="363" width="5" height="43" fill="#00FF7F"/>
<rect x="1373" y="314" width="1" height="39" fill="#FF0000"/><rect x="1371" y="324" width="5" height="21" fill="#FF0000"/>
<rect x="1381" y="318" width="1" height="67" fill="#00FF7F"/><rect x="1379" y="323" width="5" height="19" fill="#00FF7F"/>
<rect x="1389" y="337" width="1" height="38" fill="#00FF7F"/><rect x="1387" y="341" width="5" height="31" fill="#00FF7F"/>
<rect x="1397" y="352" width="1" height="156" fill="#00FF7F"/><rect x="1395" y="371" width="5" height="127" fill="#00FF7F"/>
<rect x="1405" y="393" width="1" height="124" fill="#FF0000"/><rect x="1403" y="421" width="5" height="77" fill="#FF0000"/>
<rect x="1413" y="403" width="1" height="55" fill="#FF0000"/><rect x="1411" y="412" width="5" height="10" fill="#FF0000"/>
<rect x="1421" y="396" width="1" height="40" fill="#00FF7F"/><rect x="1419" y="412" width="5" height="4" fill="#00FF7F"/>
<rect x="1429" y="393" width="1" height="62" fill="#00FF7F"/><rect x="1427" y="417" width="5" height="10" fill="#00FF7F"/>
<rect x="1437" y="419" width="1" height="41" fill="#00FF7F"/><rect x="1435" y="426" width="5" height="27" fill="#00FF7F"/>
<rect x="1445" y="450" width="1" height="41" fill="#00FF7F"/><rect x="1443" y="452" width="5" height="26" fill="#00FF7F"/>
<rect x="1453" y="331" width="1" height="148" fill="#FF0000"/><rect x="1451" y="369" width="5" height="109" fill="#FF0000"/>
<rect x="1461" y="353" width="1" height="38" fill="#00FF7F"/><rect x="1459" y="369" width="5" height="7" fill="#00FF7F"/>
<rect x="1469" y="344" width="1" height="37" fill="#FF0000"/><rect x="1467" y="359" width="5" height="17" fill="#FF0000"/>
<rect x="1477" y="356" width="1" height="22" fill="#00FF7F"/><rect x="1475" y="360" width="5" height="10" fill="#00FF7F"/>
<rect x="1485" y="368" width="1" height="70" fill="#00FF7F"/><rect x="1483" y="370" width="5" height="63" fill="#00FF7F"/>
<rect x="1493" y="397" width="1" height="55" fill="#FF0000"/><rect x="1491" y="397" width="5" height="37" fill="#FF0000"/>
<rect x="1501" y="387" width="1" height="68" fill="#00FF7F"/><rect x="1499" y="398" width="5" height="44" fill="#00FF7F"/>
<rect x="1509" y="423" width="1" height="55" fill="#FF0000"/><rect x="1507" y="437" width="5" height="5" fill="#FF0000"/>
<rect x="1517" y="429" width="1" height="45" fill="#FF0000"/><rect x="1515" y="431" width="5" height="7" fill="#FF0000"/>
<rect x="1525" y="430" width="1" height="62" fill="#00FF7F"/><rect x="1523" y="431" width="5" height="53" fill="#00FF7F"/>
<rect x="1533" y="435" width="1" height="59" fill="#FF0000"/><rect x="1531" y="458" width="5" height="26" fill="#FF0000"/>
<rect x="1541" y="447" width="1" height="34" fill="#00FF7F"/><rect x="1539" y="458" width="5" height="18" fill="#00FF7F"/>
<rect x="1549" y="440" width="1" height="52" fill="#FF0000"/><rect x="1547" y="464" width="5" height="13" fill="#FF0000"/>
<rect x="1557" y="462" width="1" height="29" fill="#00FF7F"/><rect x="1555" y="464" width="5" height="23" fill="#00FF7F"/>
<rect x="1565" y="474" width="1" height="36" fill="#FF0000"/><rect x="1563" y="480" width="5" height="6" fill="#FF0000"/>
<rect x="1573" y="452" width="1" height="29" fill="#FF0000"/><rect x="1571" y="457" width="5" height="24" fill="#FF0000"/>
<rect x="1581" y="408" width="1" height="56" fill="#FF0000"/><rect x="1579" y="409" width="5" height="49" fill="#FF0000"/>
<rect x="1589" y="399" width="1" height="28" fill="#00FF7F"/><rect x="1587" y="409" width="5" height="14" fill="#00FF7F"/>
<rect x="1597" y="414" width="1" height="40" fill="#00FF7F"/><rect x="1595" y="422" width="5" height="24" fill="#00FF7F"/>
<rect x="1605" y="442" width="1" height="24" fill="#00FF7F"/><rect x="1603" y="446" width="5" height="17" fill="#00FF7F"/>
<rect x="1613" y="433" width="1" height="21" fill="#FF0000"/><rect x="1611" y="443" width="5" height="6" fill="#FF0000"/>
<rect x="1621" y="425" width="1" height="29" fill="#FF0000"/><rect x="1619" y="440" width="5" height="3" fill="#FF0000"/>
<rect x="1629" y="435" width="1" height="21" fill="#00FF7F"/><rect x="1627" y="440" width="5" height="7" fill="#00FF7F"/>
<rect x="1637" y="436" width="1" height="17" fill="#FF0000"/><rect x="1635" y="438" width="5" height="8" fill="#FF0000"/>
<rect x="1645" y="348" width="1" height="91" fill="#FF0000"/><rect x="1643" y="350" width="5" height="89" fill="#FF0000"/>
<rect x="1653" y="317" width="1" height="38" fill="#FF0000"/><rect x="1651" y="330" width="5" height="22" fill="#FF0000"/>
<rect x="1661" y="307" width="1" height="29" fill="#FF0000"/><rect x="1659" y="310" width="5" height="21" fill="#FF0000"/>
</g>
<path d="M5 351.5h6M11 350.5h11M22 349.5h11M33 348.5h11M44 347.5h10M54 346.5h11M65 345.5h11M76 344.5h11M87 343.5h11M98 342.5h11M109 341.5h11M120 340.5h11M131 339.5h11M142 338.5h10M152 337.5h11M163 336.5h11M174 335.5h11M185 334.5h11M196 333.5h11M207 332.5h11M218 331.5h11M229 330.5h11M240 329.5h10M250 328.5h11M261 327.5h11M272 326.5h11M283 325.5h12M295 324.5h14M309 323.5h14M323 322.5h14M337 321.5h13M350 320.5h14M364 319.5h14M378 318.5h13M391 317.5h14M405 316.5h14M419 315.5h14M433 314.5h13M446 313.5h14M460 312.5h14M474 311.5h13M487 310.5h14M501 309.5h14M515 308.5h14M529 307.5h13M542 306.5h14M556 305.5h14M570 304.5h12M582 303.5h10M592 302.5h11M603 301.5h10M613 300.5h11M624 299.5h10M634 298.5h11M645 297.5h10M655 296.5h11M666 295.5h10M676 294.5h10M686 293.5h11M697 292.5h10M707 291.5h11M718 290.5h10M728 289.5h11M739 288.5h10M749 287.5h11M760 286.5h10M770 285.5h11M781 284.5h10M791 283.5h11M802 282.5h10M812 281.5h11M823 280.5h10M833 279.5h11M844 278.5h10M854 277.5h11M865 276.5h17M882 275.5h17M899 274.5h17M916 273.5h17M933 272.5h13M946 271.5h10M956 270.5h9M965 269.5h10M975 268.5h10M985 267.5h9M994 266.5h10M1004 265.5h9M1013 264.5h10M1023 263.5h10M1033 262.5h9M1042 261.5h10M1052 260.5h9M1061 259.5h10M1071 258.5h10M1081 257.5h9M1090 256.5h10M1100 255.5h9M1109 254.5h10M1119 253.5h10M1129 252.5h9M1138 251.5h10M1148 250.5h9M1157 249.5h9M1166 248.5h9M1175 247.5h9M1184 246.5h9M1193 245.5h9M1202 244.5h9M1211 243.5h9M1220 242.5h9M1229 241.5h8M1237 240.5h8M1245 239.5h8M1253 238.5h8M1261 237.5h12M1273 236.5h12M1285 235.5h84M1369 236.5h16M1385 237.5h12M1397 238.5h12M1409 239.5h11M1420 240.5h14M1434 241.5h13M1447 242.5h13M1460 243.5h12M1472 244.5h12M1484 245.5h17M1501 246.5h17M1518 247.5h12M1530 248.5h10M1540 249.5h9M1549 250.5h9M1558 251.5h10M1568 252.5h9M1577 253.5h9M1586 254.5h9M1595 255.5h9M1604 256.5h9M1613 257.5h9M1622 258.5h9M1631 259.5h31" fill="none" stroke="#FF0000" stroke-width="1" shape-rendering="crispEdges"/>
<path d="M5 285.5h4M9 286.5h4M13 287.5h4M17 288.5h3M20 289.5h4M24 290.5h4M28 291.5h4M32 292.5h3M35 293.5h4M39 294.5h4M43 295.5h4M47 296.5h3M50 297.5h4M54 298.5h4M58 299.5h4M62 300.5h4M66 301.5h4M70 302.5h4M74 303.5h4M78 304.5h4M82 305.5h4M86 306.5h4M90 307.5h4M94 308.5h5M99 309.5h6M105 310.5h6M111 311.5h6M117 312.5h7M124 313.5h6M130 314.5h7M137 315.5h8M145 316.5h10M155 317.5h13M168 316.5h8M176 315.5h7M183 314.5h5M188 313.5h5M193 312.5h6M199 311.5h6M205 310.5h7M212 309.5h6M218 308.5h7M225 307.5h7M232 306.5h8M240 305.5h8M248 304.5h9M257 303.5h17M274 302.5h32M306 301.5h43M349 300.5h45M394 299.5h6M400 298.5h6M406 297.5h6M412 296.5h6M418 295.5h6M424 294.5h6M430 293.5h6M436 292.5h6M442 291.5h6M448 290.5h6M454 289.5h5M459 288.5h4M463 287.5h5M468 286.5h5M473 285.5h4M477 284.5h5M482 283.5h5M487 282.5h4M491 281.5h5M496 280.5h5M501 279.5h3M504 278.5h4M508 277.5h4M512 276.5h4M516 275.5h3M519 274.5h4M523 273.5h4M527 272.5h4M531 271.5h2M533 270.5h3M536 269.5h3M539 268.5h3M542 267.5h2M544 266.5h3M547 265.5h3M550 264.5h3M553 263.5h3M556 262.5h2M558 261.5h3M561 260.5h3M564 259.5h3M567 258.5h3M570 257.5h2M572 256.5h3M575 255.5h3M578 254.5h3M581 253.5h2M583 252.5h3M586 251.5h3M589 250.5h3M592 249.5h2M594 248.5h3M597 247.5h3M600 246.5h2M602 245.5h2M604 244.5h2M606 243.5h2M608 242.5h3M611 241.5h2M613 240.5h2M615 239.5h2M617 238.5h2M619 237.5h2M621 236.5h2M623 235.5h3M626 234.5h1M627 233.5h1M628 232.5h2M630 231.5h1M631 230.5h1M632 229.5h2M634 228.5h1M635 227.5h2M637 226.5h2M639 225.5h1M640 224.5h2M642 223.5h2M644 222.5h2M646 221.5h1M647 220.5h1M648 219.5h1M649 218.5h2M651 217.5h1M652 216.5h1M653 215.5h1M654 214.5h2M656 213.5h1M657 212.5h1M658 211.5h2M660 210.5h1M661 209.5h2M663 208.5h1M664 207.5h1M665 206.5h2M667 205.5h1M668 204.5h1M669 203.5h1M670 202.5h1M671 201.5h2M673 200.5h1M674 199.5h1M675 198.5h1M676 197.5h1M677 196.5h1M678 195.5h1M679 194.5h1M680 193.5h1M681 192.5h1M682 191.5h2M684 190.5h1M685 189.5h1M686 188.5h1M687 187.5h2M689 186.5h3M692 185.5h2M694 184.5h2M696 183.5h2M698 182.5h2M700 181.5h2M702 180.5h3M705 179.5h2M707 178.5h2M709 177.5h3M712 176.5h2M714 175.5h2M716 174.5h3M719 173.5h2M721 172.5h2M723 171.5h2M725 170.5h2M727 169.5h2M729 168.5h2M731 167.5h2M733 166.5h2M735 165.5h2M737 164.5h2M739 163.5h2M741 162.5h4M745 161.5h5M750 160.5h4M754 159.5h5M759 158.5h4M763 157.5h5M768 156.5h5M773 155.5h5M778 154.5h5M783 153.5h9M792 152.5h12M804 151.5h14M818 152.5h7M825 153.5h7M832 154.5h2M834 155.5h2M836 156.5h3M839 157.5h2M841 158.5h2M843 159.5h2M845 160.5h4M849 161.5h3M852 162.5h4M856 163.5h3M859 164.5h4M863 165.5h2M865 166.5h2M867 167.5h2M869 168.5h2M871 169.5h2M873 170.5h2M875 171.5h2M877 172.5h2M879 173.5h1M880 174.5h2M882 175.5h2M884 176.5h1M885 177.5h2M887 178.5h1M888 179.5h2M890 180.5h1M891 181.5h2M893 182.5h1M894 183.5h2M896 184.5h1M897 185.5h2M899 186.5h2M901 187.5h2M903 188.5h2M905 189.5h2M907 190.5h2M909 191.5h2M911 192.5h2M913 193.5h2M915 194.5h2M917 195.5h2M919 196.5h1M920 197.5h2M922 198.5h2M924 199.5h2M926 200.5h1M927 201.5h2M929 202.5h2M931 203.5h2M933 204.5h1M934 205.5h2M936 206.5h2M938 207.5h2M940 208.5h2M942 209.5h2M944 210.5h2M946 211.5h2M948 212.5h2M950 213.5h2M952 214.5h2M954 215.5h2M956 216.5h3M959 217.5h2M961 218.5h2M963 219.5h2M965 220.5h4M969 221.5h6M975 222.5h5M980 223.5h7M987 224.5h10M997 225.5h28M1025 224.5h8M1033 223.5h5M1038 222.5h2M1040 221.5h2M1042 220.5h2M1044 219.5h1M1045 218.5h2M1047 217.5h2M1049 216.5h2M1051 215.5h2M1053 214.5h1M1054 213.5h2M1056 212.5h2M1058 211.5h1M1059 210.5h2M1061 209.5h1M1062 208.5h2M1064 207.5h2M1066 206.5h1M1067 205.5h2M1069 204.5h2M1071 203.5h1M1072 202.5h1M1073 201.5h1M1074 200.5h2M1076 199.5h1M1077 198.5h1M1078 197.5h1M1079 196.5h2M1081 195.5h1M1082 194.5h1M1083 193.5h1M1084 192.5h1M1085 191.5h2M1087 190.5h1M1088 189.5h1M1089 188.5h1M1090 187.5h1M1091 186.5h2M1093 185.5h1M1094 184.5h1M1095 183.5h1M1096 182.5h1M1097 181.5h1M1098 180.5h1M1099 179.5h1M1100 178.5h1M1101 177.5h1M1102 176.5h1M1103 175.5h1M1104 174.5h1M1105 173.5h1M1106 172.5h1M1107 171.5h1M1108 170.5h1M1109 169.5h1M1110 168.5h1M1111 167.5h2M1113 166.5h1M1114 165.5h1M1115 164.5h2M1117 163.5h1M1118 162.5h2M1120 161.5h1M1121 160.5h1M1122.5 159v2M1123 158.5h1M1124 157.5h1M1125 156.5h1M1126 155.5h1M1127.5 153v2M1128 152.5h1M1129 151.5h1M1130 150.5h1M1131 149.5h1M1132 148.5h1M1133 147.5h1M1134 146.5h2M1136 145.5h2M1138 144.5h2M1140 143.5h2M1142 142.5h2M1144 141.5h2M1146 140.5h2M1148 139.5h3M1151 138.5h3M1154 137.5h3M1157 136.5h3M1160 135.5h3M1163 134.5h3M1166 133.5h2M1168 132.5h3M1171 131.5h3M1174 130.5h2M1176 129.5h3M1179 128.5h4M1183 127.5h4M1187 126.5h4M1191 125.5h4M1195 124.5h4M1199 123.5h5M1204 122.5h6M1210 121.5h11M1221 120.5h25M1246 121.5h6M1252 122.5h7M1259 123.5h4M1263 124.5h2M1265 125.5h2M1267 126.5h2M1269 127.5h2M1271 128.5h2M1273 129.5h2M1275 130.5h3M1278 131.5h3M1281 132.5h3M1284 133.5h2M1286 134.5h3M1289 135.5h2M1291 136.5h2M1293 137.5h2M1295 138.5h2M1297 139.5h1M1298 140.5h2M1300 141.5h1M1301.5 141v2M1302 143.5h1M1303 144.5h1M1304.5 145v2M1305 147.5h1M1306 148.5h1M1307.5 149v2M1308 151.5h1M1309.5 152v2M1310 154.5h1M1311 155.5h1M1312.5 156v2M1313 158.5h1M1314 159.5h1M1315 160.5h1M1316 161.5h1M1317 162.5h1M1318 163.5h1M1319 164.5h1M1320 165.5h1M1321 166.5h1M1322 167.5h1M1323 168.5h1M1324 169.5h1M1325 170.5h1M1326 171.5h1M1327 172.5h1M1328 173.5h1M1329 174.5h1M1330 175.5h1M1331 176.5h1M1332 177.5h1M1333 178.5h1M1334 179.5h1M1335 180.5h1M1336 181.5h1M1337 182.5h1M1338 183.5h1M1339 184.5h1M1340 185.5h1M1341 186.5h1M1342.5 187v2M1343 189.5h2M1345 190.5h1M1346 191.5h2M1348 192.5h1M1349 193.5h1M1350 194.5h1M1351 195.5h1M1352 196.5h1M1353.5 197v2M1354 199.5h1M1355 200.5h1M1356.5 201v2M1357 203.5h1M1358.5 204v2M1359.5 206v2M1360.5 208v2M1361.5 210v2M1362 212.5h1M1363.5 213v2M1364.5 215v2M1365 217.5h1M1366.5 218v2M1367 220.5h1M1368 221.5h1M1369 222.5h1M1370.5 223v2M1371 225.5h1M1372 226.5h1M1373 227.5h1M1374 228.5h1M1375 229.5h1M1376 230.5h1M1377 231.5h1M1378 232.5h1M1379 233.5h1M1380 234.5h1M1381.5 235v2M1382 237.5h1M1383 238.5h1M1384 239.5h1M1385.5 240v2M1386 242.5h1M1387 243.5h1M1388.5 244v2M1389 246.5h1M1390.5 247v2M1391.5 249v2M1392.5 251v2M1393.5 253v2M1394.5 255v2M1395.5 257v2M1396.5 259v2M1397 261.5h1M1398.5 262v2M1399.5 264v2M1400.5 266v2M1401 268.5h1M1402.5 269v2M1403.5 271v2M1404 273.5h1M1405.5 274v2M1406.5 276v2M1407 278.5h1M1408.5 279v2M1409.5 281v2M1410 283.5h1M1411.5 284v2M1412.5 286v2M1413 288.5h1M1414.5 289v2M1415.5 291v2M1416 293.5h1M1417.5 294v2M1418.5 296v2M1419.5 298v2M1420 300.5h1M1421.5 301v2M1422.5 303v2M1423 305.5h1M1424.5 306v2M1425.5 308v2M1426 310.5h1M1427.5 311v2M1428 313.5h1M1429.5 314v2M1430 316.5h1M1431.5 317v2M1432 319.5h1M1433.5 320v2M1434 322.5h1M1435.5 323v2M1436 325.5h1M1437.5 326v2M1438.5 328v2M1439.5 330v2M1440.5 332v2M1441.5 334v2M1442 336.5h1M1443.5 337v2M1444.5 339v2M1445.5 341v2M1446 343.5h1M1447 344.5h1M1448.5 345v2M1449 347.5h1M1450 348.5h1M1451.5 349v2M1452 351.5h1M1453 352.5h1M1454.5 353v2M1455 355.5h1M1456 356.5h1M1457 357.5h1M1458 358.5h1M1459 359.5h1M1460 360.5h1M1461 361.5h1M1462 362.5h1M1463 363.5h2M1465 364.5h1M1466 365.5h1M1467 366.5h1M1468 367.5h1M1469 368.5h2M1471 369.5h1M1472 370.5h1M1473 371.5h2M1475 372.5h1M1476 373.5h2M1478 374.5h2M1480 375.5h1M1481 376.5h1M1482 377.5h2M1484 378.5h1M1485 379.5h1M1486 380.5h2M1488 381.5h2M1490 382.5h1M1491 383.5h2M1493 384.5h2M1495 385.5h1M1496 386.5h2M1498 387.5h1M1499 388.5h1M1500 389.5h2M1502 390.5h1M1503 391.5h1M1504 392.5h1M1505 393.5h1M1506 394.5h1M1507 395.5h1M1508 396.5h1M1509 397.5h1M1510 398.5h1M1511.5 399v2M1512 401.5h2M1514 402.5h1M1515 403.5h1M1516 404.5h1M1517 405.5h2M1519 406.5h1M1520 407.5h1M1521 408.5h2M1523 409.5h2M1525 410.5h2M1527 411.5h2M1529 412.5h2M1531 413.5h2M1533 414.5h2M1535 415.5h1M1536 416.5h1M1537 417.5h1M1538 418.5h2M1540 419.5h1M1541 420.5h1M1542 421.5h1M1543 422.5h2M1545 423.5h1M1546 424.5h1M1547 425.5h1M1548 426.5h2M1550 427.5h1M1551 428.5h2M1553 429.5h1M1554 430.5h1M1555 431.5h2M1557 432.5h4M1561 431.5h9M1570 432.5h5M1575 433.5h18M1593 434.5h8M1601 435.5h4M1605 434.5h5M1610 433.5h5M1615 434.5h3M1618 435.5h2M1620 436.5h3M1623 437.5h2M1625 438.5h2M1627 439.5h2M1629 440.5h2M1631 441.5h2M1633 442.5h2M1635 443.5h2M1637 444.5h5M1642 443.5h4M1646 442.5h2M1648 441.5h2M1650 440.5h1M1651 439.5h2M1653 438.5h2M1655 437.5h1M1656 436.5h2M1658 435.5h2M1660 434.5h2" fill="none" stroke="#FFA500" stroke-width="1" shape-rendering="crispEdges"/>
<path d="M5 296.5h69M74 297.5h56M130 298.5h24M154 299.5h24M178 300.5h88M266 301.5h64M330 302.5h13M343 303.5h12M355 304.5h12M367 305.5h47M414 304.5h27M441 303.5h6M447 302.5h7M454 301.5h7M461 300.5h6M467 299.5h7M474 298.5h7M481 297.5h5M486 296.5h6M492 295.5h5M497 294.5h6M503 293.5h5M508 292.5h6M514 291.5h5M519 290.5h6M525 289.5h6M531 288.5h6M537 287.5h6M543 286.5h6M549 285.5h6M555 284.5h6M561 283.5h6M567 282.5h6M573 281.5h6M579 280.5h6M585 279.5h5M590 278.5h5M595 277.5h6M601 276.5h4M605 275.5h5M610 274.5h5M615 273.5h5M620 272.5h5M625 271.5h4M629 270.5h3M632 269.5h4M636 268.5h3M639 267.5h3M642 266.5h4M646 265.5h2M648 264.5h2M650 263.5h3M653 262.5h2M655 261.5h3M658 260.5h2M660 259.5h3M663 258.5h2M665 257.5h2M667 256.5h2M669 255.5h2M671 254.5h3M674 253.5h2M676 252.5h2M678 251.5h2M680 250.5h3M683 249.5h2M685 248.5h2M687 247.5h2M689 246.5h4M693 245.5h4M697 244.5h4M701 243.5h3M704 242.5h3M707 241.5h3M710 240.5h2M712 239.5h3M715 238.5h3M718 237.5h3M721 236.5h3M724 235.5h2M726 234.5h3M729 233.5h3M732 232.5h3M735 231.5h3M738 230.5h3M741 229.5h2M743 228.5h3M746 227.5h3M749 226.5h3M752 225.5h4M756 224.5h3M759 223.5h3M762 222.5h4M766 221.5h4M770 220.5h5M775 219.5h4M779 218.5h5M784 217.5h3M787 216.5h4M791 215.5h3M794 214.5h4M798 213.5h3M801 212.5h3M804 211.5h3M807 210.5h3M810 209.5h2M812 208.5h3M815 207.5h3M818 206.5h3M821 205.5h3M824 204.5h2M826 203.5h3M829 202.5h4M833 201.5h4M837 200.5h5M842 199.5h4M846 198.5h5M851 197.5h5M856 196.5h6M862 195.5h8M870 194.5h11M881 193.5h15M896 192.5h43M939 193.5h31M970 192.5h8M978 191.5h8M986 190.5h8M994 189.5h8M1002 188.5h7M1009 187.5h8M1017 186.5h9M1026 185.5h12M1038 184.5h11M1049 183.5h12M1061 182.5h12M1073 181.5h41M1114 180.5h13M1127 179.5h8M1135 178.5h6M1141 177.5h6M1147 176.5h6M1153 175.5h6M1159 174.5h11M1170 173.5h13M1183 172.5h13M1196 171.5h45M1241 170.5h63M1304 171.5h4M1308 172.5h6M1314 173.5h16M1330 174.5h22M1352 175.5h3M1355 176.5h3M1358 177.5h5M1363 178.5h4M1367 179.5h4M1371 180.5h4M1375 181.5h6M1381 182.5h5M1386 183.5h3M1389 184.5h2M1391 185.5h2M1393 186.5h2M1395 187.5h2M1397 188.5h3M1400 189.5h2M1402 190.5h2M1404 191.5h3M1407 192.5h2M1409 193.5h2M1411 194.5h3M1414 195.5h2M1416 196.5h2M1418 197.5h2M1420 198.5h2M1422 199.5h2M1424 200.5h1M1425 201.5h2M1427 202.5h1M1428 203.5h2M1430 204.5h2M1432 205.5h1M1433 206.5h2M1435 207.5h2M1437 208.5h2M1439 209.5h1M1440 210.5h2M1442 211.5h2M1444 212.5h1M1445 213.5h2M1447 214.5h2M1449 215.5h2M1451 216.5h2M1453 217.5h2M1455 218.5h2M1457 219.5h2M1459 220.5h2M1461 221.5h1M1462 222.5h2M1464 223.5h2M1466 224.5h2M1468 225.5h2M1470 226.5h2M1472 227.5h2M1474 228.5h2M1476 229.5h2M1478 230.5h2M1480 231.5h2M1482 232.5h2M1484 233.5h2M1486 234.5h2M1488 235.5h2M1490 236.5h2M1492 237.5h2M1494 238.5h2M1496 239.5h2M1498 240.5h1M1499 241.5h2M1501 242.5h1M1502 243.5h2M1504 244.5h1M1505 245.5h1M1506 246.5h2M1508 247.5h1M1509 248.5h1M1510 249.5h2M1512 250.5h1M1513 251.5h1M1514 252.5h2M1516 253.5h1M1517 254.5h1M1518 255.5h1M1519 256.5h1M1520 257.5h2M1522 258.5h1M1523 259.5h1M1524 260.5h1M1525 261.5h1M1526 262.5h2M1528 263.5h1M1529 264.5h1M1530 265.5h1M1531 266.5h2M1533 267.5h1M1534 268.5h1M1535 269.5h1M1536 270.5h1M1537 271.5h2M1539 272.5h1M1540 273.5h1M1541 274.5h1M1542 275.5h1M1543 276.5h2M1545 277.5h1M1546 278.5h1M1547 279.5h1M1548 280.5h2M1550 281.5h1M1551 282.5h1M1552 283.5h1M1553 284.5h1M1554 285.5h2M1556 286.5h1M1557 287.5h1M1558 288.5h1M1559 289.5h1M1560 290.5h2M1562 291.5h1M1563 292.5h1M1564 293.5h2M1566 294.5h1M1567 295.5h1M1568 296.5h1M1569 297.5h2M1571 298.5h1M1572 299.5h1M1573 300.5h2M1575 301.5h1M1576 302.5h1M1577 303.5h1M1578 304.5h2M1580 305.5h1M1581 306.5h1M1582 307.5h2M1584 308.5h1M1585 309.5h1M1586 310.5h2M1588 311.5h1M1589 312.5h1M1590 313.5h1M1591 314.5h2M1593 315.5h1M1594 316.5h1M1595 317.5h2M1597 318.5h1M1598 319.5h1M1599 320.5h2M1601 321.5h1M1602 322.5h1M1603 323.5h2M1605 324.5h1M1606 325.5h1M1607 326.5h2M1609 327.5h1M1610 328.5h1M1611 329.5h2M1613 330.5h1M1614 331.5h1M1615 332.5h2M1617 333.5h1M1618 334.5h1M1619 335.5h1M1620 336.5h2M1622 337.5h1M1623 338.5h1M1624 339.5h1M1625 340.5h2M1627 341.5h2M1629 342.5h1M1630 343.5h2M1632 344.5h2M1634 345.5h1M1635 346.5h2M1637 347.5h2M1639 348.5h1M1640 349.5h2M1642 350.5h3M1645 351.5h2M1647 352.5h3M1650 353.5h2M1652 354.5h2M1654 355.5h2M1656 356.5h3M1659 357.5h2M1661 358.5h1" fill="none" stroke="#FF00FF" stroke-width="1" shape-rendering="crispEdges"/>
<g shape-rendering="crispEdges">
<rect x="5" y="228" width="1681" height="2" fill="#FF0000"/>
<rect x="5" y="309" width="1681" height="2" fill="#FF0000"/>
<rect x="5" y="363" width="1681" height="2" fill="#00FF7F"/>
<rect x="5" y="427" width="1681" height="2" fill="#4169E1"/>
<rect x="5" y="499" width="1681" height="2" fill="#4169E1"/>
</g>
</g>
<g shape-rendering="crispEdges">
<rect x="4" y="361" width="6" height="6" fill="#00FF7F"/><rect x="6" y="363" width="2" height="2" fill="#FFF"/>
<rect x="1679" y="361" width="6" height="6" fill="#00FF7F"/><rect x="1681" y="363" width="2" height="2" fill="#FFF"/>
<rect x="4" y="425" width="6" height="6" fill="#4169E1"/><rect x="6" y="427" width="2" height="2" fill="#FFF"/>
<rect x="1679" y="425" width="6" height="6" fill="#4169E1"/><rect x="1681" y="427" width="2" height="2" fill="#FFF"/>
</g>
<rect x="1687" y="223" width="41" height="11" fill="#FF0000" shape-rendering="crispEdges"/>
<text transform="translate(1691.6 232) scale(1 1)" fill="#FFF" font-size="9.8" text-anchor="start" textLength="32.3" lengthAdjust="spacingAndGlyphs" stroke="#FFF" stroke-width="0.12">1610.00</text>
<rect x="1687" y="304" width="41" height="11" fill="#FF0000" shape-rendering="crispEdges"/>
<text transform="translate(1691.6 313) scale(1 1)" fill="#FFF" font-size="9.8" text-anchor="start" textLength="32.3" lengthAdjust="spacingAndGlyphs" stroke="#FFF" stroke-width="0.12">1565.00</text>
<rect x="1687" y="358" width="41" height="11" fill="#00FF7F" shape-rendering="crispEdges"/>
<text transform="translate(1691.6 367) scale(1 1)" fill="#FFF" font-size="9.8" text-anchor="start" textLength="32.3" lengthAdjust="spacingAndGlyphs" stroke="#FFF" stroke-width="0.12">1535.11</text>
<rect x="1687" y="422" width="41" height="11" fill="#4169E1" shape-rendering="crispEdges"/>
<text transform="translate(1691.6 431) scale(1 1)" fill="#FFF" font-size="9.8" text-anchor="start" textLength="32.3" lengthAdjust="spacingAndGlyphs" stroke="#FFF" stroke-width="0.12">1500.00</text>
<rect x="1687" y="494" width="41" height="11" fill="#4169E1" shape-rendering="crispEdges"/>
<text transform="translate(1691.6 503) scale(1 1)" fill="#FFF" font-size="9.8" text-anchor="start" textLength="32.3" lengthAdjust="spacingAndGlyphs" stroke="#FFF" stroke-width="0.12">1460.00</text>
<text x="721" y="406" fill="#FF2010" font-size="33" text-anchor="start" textLength="236" lengthAdjust="spacingAndGlyphs" font-family="'Liberation Sans', 'Noto Sans CJK SC', sans-serif">多空转折点1535</text>
<g clip-path="url(#c2)">
<g shape-rendering="crispEdges">
<rect x="5" y="581" width="1" height="1" fill="#C0C0C0"/>
<rect x="13" y="581" width="1" height="4" fill="#C0C0C0"/>
<rect x="21" y="581" width="1" height="7" fill="#C0C0C0"/>
<rect x="29" y="581" width="1" height="10" fill="#C0C0C0"/>
<rect x="37" y="581" width="1" height="11" fill="#C0C0C0"/>
<rect x="45" y="581" width="1" height="11" fill="#C0C0C0"/>
<rect x="53" y="581" width="1" height="12" fill="#C0C0C0"/>
<rect x="61" y="581" width="1" height="12" fill="#C0C0C0"/>
<rect x="69" y="581" width="1" height="12" fill="#C0C0C0"/>
<rect x="77" y="581" width="1" height="11" fill="#C0C0C0"/>
<rect x="85" y="581" width="1" height="11" fill="#C0C0C0"/>
<rect x="93" y="581" width="1" height="11" fill="#C0C0C0"/>
<rect x="101" y="581" width="1" height="10" fill="#C0C0C0"/>
<rect x="109" y="581" width="1" height="9" fill="#C0C0C0"/>
<rect x="117" y="581" width="1" height="7" fill="#C0C0C0"/>
<rect x="125" y="581" width="1" height="6" fill="#C0C0C0"/>
<rect x="133" y="581" width="1" height="5" fill="#C0C0C0"/>
<rect x="141" y="581" width="1" height="4" fill="#C0C0C0"/>
<rect x="149" y="581" width="1" height="3" fill="#C0C0C0"/>
<rect x="157" y="581" width="1" height="2" fill="#C0C0C0"/>
<rect x="165" y="581" width="1" height="1" fill="#C0C0C0"/>
<rect x="173" y="581" width="1" height="1" fill="#C0C0C0"/>
<rect x="181" y="581" width="1" height="1" fill="#C0C0C0"/>
<rect x="189" y="581" width="1" height="1" fill="#C0C0C0"/>
<rect x="197" y="580" width="1" height="2" fill="#C0C0C0"/>
<rect x="205" y="580" width="1" height="2" fill="#C0C0C0"/>
<rect x="213" y="579" width="1" height="3" fill="#C0C0C0"/>
<rect x="221" y="579" width="1" height="3" fill="#C0C0C0"/>
<rect x="229" y="580" width="1" height="2" fill="#C0C0C0"/>
<rect x="237" y="579" width="1" height="3" fill="#C0C0C0"/>
<rect x="245" y="579" width="1" height="3" fill="#C0C0C0"/>
<rect x="253" y="580" width="1" height="2" fill="#C0C0C0"/>
<rect x="261" y="579" width="1" height="3" fill="#C0C0C0"/>
<rect x="269" y="580" width="1" height="2" fill="#C0C0C0"/>
<rect x="277" y="579" width="1" height="3" fill="#C0C0C0"/>
<rect x="285" y="580" width="1" height="2" fill="#C0C0C0"/>
<rect x="293" y="580" width="1" height="2" fill="#C0C0C0"/>
<rect x="301" y="580" width="1" height="2" fill="#C0C0C0"/>
<rect x="309" y="581" width="1" height="1" fill="#C0C0C0"/>
<rect x="317" y="580" width="1" height="2" fill="#C0C0C0"/>
<rect x="325" y="581" width="1" height="1" fill="#C0C0C0"/>
<rect x="333" y="580" width="1" height="2" fill="#C0C0C0"/>
<rect x="341" y="580" width="1" height="2" fill="#C0C0C0"/>
<rect x="349" y="579" width="1" height="3" fill="#C0C0C0"/>
<rect x="357" y="579" width="1" height="3" fill="#C0C0C0"/>
<rect x="365" y="578" width="1" height="4" fill="#C0C0C0"/>
<rect x="373" y="578" width="1" height="4" fill="#C0C0C0"/>
<rect x="381" y="578" width="1" height="4" fill="#C0C0C0"/>
<rect x="389" y="578" width="1" height="4" fill="#C0C0C0"/>
<rect x="397" y="577" width="1" height="5" fill="#C0C0C0"/>
<rect x="405" y="576" width="1" height="6" fill="#C0C0C0"/>
<rect x="413" y="576" width="1" height="6" fill="#C0C0C0"/>
<rect x="421" y="576" width="1" height="6" fill="#C0C0C0"/>
<rect x="429" y="575" width="1" height="7" fill="#C0C0C0"/>
<rect x="437" y="576" width="1" height="6" fill="#C0C0C0"/>
<rect x="445" y="575" width="1" height="7" fill="#C0C0C0"/>
<rect x="453" y="576" width="1" height="6" fill="#C0C0C0"/>
<rect x="461" y="575" width="1" height="7" fill="#C0C0C0"/>
<rect x="469" y="575" width="1" height="7" fill="#C0C0C0"/>
<rect x="477" y="574" width="1" height="8" fill="#C0C0C0"/>
<rect x="485" y="574" width="1" height="8" fill="#C0C0C0"/>
<rect x="493" y="572" width="1" height="10" fill="#C0C0C0"/>
<rect x="501" y="570" width="1" height="12" fill="#C0C0C0"/>
<rect x="509" y="569" width="1" height="13" fill="#C0C0C0"/>
<rect x="517" y="568" width="1" height="14" fill="#C0C0C0"/>
<rect x="525" y="567" width="1" height="15" fill="#C0C0C0"/>
<rect x="533" y="565" width="1" height="17" fill="#C0C0C0"/>
<rect x="541" y="565" width="1" height="17" fill="#C0C0C0"/>
<rect x="549" y="565" width="1" height="17" fill="#C0C0C0"/>
<rect x="557" y="564" width="1" height="18" fill="#C0C0C0"/>
<rect x="565" y="564" width="1" height="18" fill="#C0C0C0"/>
<rect x="573" y="565" width="1" height="17" fill="#C0C0C0"/>
<rect x="581" y="563" width="1" height="19" fill="#C0C0C0"/>
<rect x="589" y="564" width="1" height="18" fill="#C0C0C0"/>
<rect x="597" y="562" width="1" height="20" fill="#C0C0C0"/>
<rect x="605" y="561" width="1" height="21" fill="#C0C0C0"/>
<rect x="613" y="561" width="1" height="21" fill="#C0C0C0"/>
<rect x="621" y="559" width="1" height="23" fill="#C0C0C0"/>
<rect x="629" y="558" width="1" height="24" fill="#C0C0C0"/>
<rect x="637" y="555" width="1" height="27" fill="#C0C0C0"/>
<rect x="645" y="554" width="1" height="28" fill="#C0C0C0"/>
<rect x="653" y="549" width="1" height="33" fill="#C0C0C0"/>
<rect x="661" y="547" width="1" height="35" fill="#C0C0C0"/>
<rect x="669" y="544" width="1" height="38" fill="#C0C0C0"/>
<rect x="677" y="540" width="1" height="42" fill="#C0C0C0"/>
<rect x="685" y="539" width="1" height="43" fill="#C0C0C0"/>
<rect x="693" y="542" width="1" height="40" fill="#C0C0C0"/>
<rect x="701" y="546" width="1" height="36" fill="#C0C0C0"/>
<rect x="709" y="547" width="1" height="35" fill="#C0C0C0"/>
<rect x="717" y="551" width="1" height="31" fill="#C0C0C0"/>
<rect x="725" y="555" width="1" height="27" fill="#C0C0C0"/>
<rect x="733" y="556" width="1" height="26" fill="#C0C0C0"/>
<rect x="741" y="558" width="1" height="24" fill="#C0C0C0"/>
<rect x="749" y="562" width="1" height="20" fill="#C0C0C0"/>
<rect x="757" y="565" width="1" height="17" fill="#C0C0C0"/>
<rect x="765" y="567" width="1" height="15" fill="#C0C0C0"/>
<rect x="773" y="568" width="1" height="14" fill="#C0C0C0"/>
<rect x="781" y="571" width="1" height="11" fill="#C0C0C0"/>
<rect x="789" y="571" width="1" height="11" fill="#C0C0C0"/>
<rect x="797" y="572" width="1" height="10" fill="#C0C0C0"/>
<rect x="805" y="572" width="1" height="10" fill="#C0C0C0"/>
<rect x="813" y="573" width="1" height="9" fill="#C0C0C0"/>
<rect x="821" y="573" width="1" height="9" fill="#C0C0C0"/>
<rect x="829" y="573" width="1" height="9" fill="#C0C0C0"/>
<rect x="837" y="575" width="1" height="7" fill="#C0C0C0"/>
<rect x="845" y="576" width="1" height="6" fill="#C0C0C0"/>
<rect x="853" y="577" width="1" height="5" fill="#C0C0C0"/>
<rect x="861" y="581" width="1" height="1" fill="#C0C0C0"/>
<rect x="869" y="581" width="1" height="1" fill="#C0C0C0"/>
<rect x="877" y="581" width="1" height="11" fill="#C0C0C0"/>
<rect x="885" y="581" width="1" height="18" fill="#C0C0C0"/>
<rect x="893" y="581" width="1" height="23" fill="#C0C0C0"/>
<rect x="901" y="581" width="1" height="25" fill="#C0C0C0"/>
<rect x="909" y="581" width="1" height="26" fill="#C0C0C0"/>
<rect x="917" y="581" width="1" height="25" fill="#C0C0C0"/>
<rect x="925" y="581" width="1" height="26" fill="#C0C0C0"/>
<rect x="933" y="581" width="1" height="27" fill="#C0C0C0"/>
<rect x="941" y="581" width="1" height="27" fill="#C0C0C0"/>
<rect x="949" y="581" width="1" height="26" fill="#C0C0C0"/>
<rect x="957" y="581" width="1" height="26" fill="#C0C0C0"/>
<rect x="965" y="581" width="1" height="24" fill="#C0C0C0"/>
<rect x="973" y="581" width="1" height="17" fill="#C0C0C0"/>
<rect x="981" y="581" width="1" height="12" fill="#C0C0C0"/>
<rect x="989" y="581" width="1" height="6" fill="#C0C0C0"/>
<rect x="997" y="581" width="1" height="1" fill="#C0C0C0"/>
<rect x="1005" y="580" width="1" height="2" fill="#C0C0C0"/>
<rect x="1013" y="577" width="1" height="5" fill="#C0C0C0"/>
<rect x="1021" y="574" width="1" height="8" fill="#C0C0C0"/>
<rect x="1029" y="573" width="1" height="9" fill="#C0C0C0"/>
<rect x="1037" y="572" width="1" height="10" fill="#C0C0C0"/>
<rect x="1045" y="572" width="1" height="10" fill="#C0C0C0"/>
<rect x="1053" y="572" width="1" height="10" fill="#C0C0C0"/>
<rect x="1061" y="570" width="1" height="12" fill="#C0C0C0"/>
<rect x="1069" y="567" width="1" height="15" fill="#C0C0C0"/>
<rect x="1077" y="563" width="1" height="19" fill="#C0C0C0"/>
<rect x="1085" y="559" width="1" height="23" fill="#C0C0C0"/>
<rect x="1093" y="557" width="1" height="25" fill="#C0C0C0"/>
<rect x="1101" y="556" width="1" height="26" fill="#C0C0C0"/>
<rect x="1109" y="553" width="1" height="29" fill="#C0C0C0"/>
<rect x="1117" y="554" width="1" height="28" fill="#C0C0C0"/>
<rect x="1125" y="552" width="1" height="30" fill="#C0C0C0"/>
<rect x="1133" y="548" width="1" height="34" fill="#C0C0C0"/>
<rect x="1141" y="549" width="1" height="33" fill="#C0C0C0"/>
<rect x="1149" y="550" width="1" height="32" fill="#C0C0C0"/>
<rect x="1157" y="551" width="1" height="31" fill="#C0C0C0"/>
<rect x="1165" y="555" width="1" height="27" fill="#C0C0C0"/>
<rect x="1173" y="557" width="1" height="25" fill="#C0C0C0"/>
<rect x="1181" y="560" width="1" height="22" fill="#C0C0C0"/>
<rect x="1189" y="562" width="1" height="20" fill="#C0C0C0"/>
<rect x="1197" y="565" width="1" height="17" fill="#C0C0C0"/>
<rect x="1205" y="568" width="1" height="14" fill="#C0C0C0"/>
<rect x="1213" y="571" width="1" height="11" fill="#C0C0C0"/>
<rect x="1221" y="576" width="1" height="6" fill="#C0C0C0"/>
<rect x="1229" y="578" width="1" height="4" fill="#C0C0C0"/>
<rect x="1237" y="579" width="1" height="3" fill="#C0C0C0"/>
<rect x="1245" y="579" width="1" height="3" fill="#C0C0C0"/>
<rect x="1253" y="578" width="1" height="4" fill="#C0C0C0"/>
<rect x="1261" y="581" width="1" height="1" fill="#C0C0C0"/>
<rect x="1269" y="581" width="1" height="3" fill="#C0C0C0"/>
<rect x="1277" y="581" width="1" height="5" fill="#C0C0C0"/>
<rect x="1285" y="581" width="1" height="7" fill="#C0C0C0"/>
<rect x="1293" y="581" width="1" height="9" fill="#C0C0C0"/>
<rect x="1301" y="581" width="1" height="11" fill="#C0C0C0"/>
<rect x="1309" y="581" width="1" height="24" fill="#C0C0C0"/>
<rect x="1317" y="581" width="1" height="32" fill="#C0C0C0"/>
<rect x="1325" y="581" width="1" height="38" fill="#C0C0C0"/>
<rect x="1333" y="581" width="1" height="45" fill="#C0C0C0"/>
<rect x="1341" y="581" width="1" height="45" fill="#C0C0C0"/>
<rect x="1349" y="581" width="1" height="46" fill="#C0C0C0"/>
<rect x="1357" y="581" width="1" height="54" fill="#C0C0C0"/>
<rect x="1365" y="581" width="1" height="63" fill="#C0C0C0"/>
<rect x="1373" y="581" width="1" height="62" fill="#C0C0C0"/>
<rect x="1381" y="581" width="1" height="62" fill="#C0C0C0"/>
<rect x="1389" y="581" width="1" height="64" fill="#C0C0C0"/>
<rect x="1397" y="581" width="1" height="77" fill="#C0C0C0"/>
<rect x="1405" y="581" width="1" height="79" fill="#C0C0C0"/>
<rect x="1413" y="581" width="1" height="79" fill="#C0C0C0"/>
<rect x="1421" y="581" width="1" height="78" fill="#C0C0C0"/>
<rect x="1429" y="581" width="1" height="78" fill="#C0C0C0"/>
<rect x="1437" y="581" width="1" height="79" fill="#C0C0C0"/>
<rect x="1445" y="581" width="1" height="81" fill="#C0C0C0"/>
<rect x="1453" y="581" width="1" height="72" fill="#C0C0C0"/>
<rect x="1461" y="581" width="1" height="65" fill="#C0C0C0"/>
<rect x="1469" y="581" width="1" height="57" fill="#C0C0C0"/>
<rect x="1477" y="581" width="1" height="51" fill="#C0C0C0"/>
<rect x="1485" y="581" width="1" height="51" fill="#C0C0C0"/>
<rect x="1493" y="581" width="1" height="48" fill="#C0C0C0"/>
<rect x="1501" y="581" width="1" height="49" fill="#C0C0C0"/>
<rect x="1509" y="581" width="1" height="49" fill="#C0C0C0"/>
<rect x="1517" y="581" width="1" height="47" fill="#C0C0C0"/>
<rect x="1525" y="581" width="1" height="51" fill="#C0C0C0"/>
<rect x="1533" y="581" width="1" height="50" fill="#C0C0C0"/>
<rect x="1541" y="581" width="1" height="50" fill="#C0C0C0"/>
<rect x="1549" y="581" width="1" height="50" fill="#C0C0C0"/>
<rect x="1557" y="581" width="1" height="50" fill="#C0C0C0"/>
<rect x="1565" y="581" width="1" height="50" fill="#C0C0C0"/>
<rect x="1573" y="581" width="1" height="47" fill="#C0C0C0"/>
<rect x="1581" y="581" width="1" height="40" fill="#C0C0C0"/>
<rect x="1589" y="581" width="1" height="34" fill="#C0C0C0"/>
<rect x="1597" y="581" width="1" height="32" fill="#C0C0C0"/>
<rect x="1605" y="581" width="1" height="32" fill="#C0C0C0"/>
<rect x="1613" y="581" width="1" height="29" fill="#C0C0C0"/>
<rect x="1621" y="581" width="1" height="27" fill="#C0C0C0"/>
<rect x="1629" y="581" width="1" height="25" fill="#C0C0C0"/>
<rect x="1637" y="581" width="1" height="22" fill="#C0C0C0"/>
<rect x="1645" y="581" width="1" height="12" fill="#C0C0C0"/>
<rect x="1653" y="581" width="1" height="1" fill="#C0C0C0"/>
<rect x="1661" y="574" width="1" height="8" fill="#C0C0C0"/>
</g>
<path d="M5 579.5h3M11 579.5h3M17 580.5h3M23 581.5h3M29 581.5h2M31 582.5h1M35 582.5h2M37 583.5h1M41 584.5h3M47 585.5h1M48 586.5h2M53 587.5h3M59 588.5h3M65 589.5h3M71 590.5h3M77 591.5h3M83 592.5h3M89 592.5h3M95 592.5h3M101 592.5h3M107 592.5h3M113 592.5h3M119 592.5h3M125 592.5h1M126 591.5h2M131 591.5h3M137 591.5h1M138 590.5h2M143 590.5h3M149 589.5h2M151 588.5h1M155 587.5h3M161 586.5h3M167 586.5h3M173 585.5h3M179 584.5h3M185 584.5h1M186 583.5h2M191 583.5h2M193 582.5h1M197 582.5h1M198 581.5h2M203 581.5h3M209 580.5h3M215 580.5h3M221 580.5h3M227 580.5h1M228 579.5h2M233 579.5h3M239 579.5h3M245 579.5h3M251 579.5h3M257 579.5h3M263 579.5h3M269 579.5h3M275 579.5h3M281 579.5h1M282 580.5h2M287 581.5h3M293 581.5h3M299 581.5h3M305 581.5h3M311 581.5h3M317 581.5h3M323 581.5h3M329 581.5h3M335 581.5h3M341 581.5h3M347 581.5h3M353 580.5h3M359 580.5h3M365 580.5h3M371 579.5h3M377 579.5h3M383 579.5h3M389 578.5h3M395 578.5h3M401 577.5h3M407 577.5h3M413 577.5h2M415 576.5h1M419 576.5h3M425 576.5h3M431 576.5h3M437 576.5h2M439 575.5h1M443 575.5h3M449 575.5h3M455 575.5h3M461 575.5h3M467 575.5h3M473 574.5h3M479 574.5h3M485 574.5h3M491 574.5h3M497 573.5h3M503 573.5h3M509 572.5h3M515 571.5h3M521 571.5h1M522 570.5h2M527 570.5h3M533 569.5h3M539 568.5h3M545 567.5h3M551 566.5h3M557 565.5h3M563 565.5h3M569 565.5h2M571 564.5h1M575 564.5h3M581 564.5h3M587 563.5h3M593 563.5h3M599 563.5h3M605 562.5h3M611 562.5h3M617 561.5h3M623 561.5h3M629 560.5h3M635 560.5h3M641 559.5h3M647 558.5h3M653 557.5h3M659 556.5h2M661 555.5h1M665 554.5h3M671 553.5h1M672 552.5h2M677 551.5h3M683 549.5h1M684 548.5h2M689 547.5h3M695 546.5h3M701 545.5h3M707 545.5h1M708 544.5h2M713 544.5h3M719 544.5h3M725 544.5h3M731 545.5h3M737 545.5h1M738 546.5h2M743 547.5h3M749 548.5h1M750 549.5h2M755 551.5h2M757 552.5h1M761 553.5h1M762 554.5h2M767 556.5h3M773 557.5h1M774 558.5h2M779 559.5h1M780 560.5h2M785 561.5h1M786 562.5h2M791 564.5h2M793 565.5h1M797 565.5h3M803 566.5h3M809 567.5h3M815 568.5h3M821 569.5h3M827 569.5h1M828 570.5h2M833 570.5h2M835 571.5h1M839 571.5h3M845 572.5h3M851 573.5h3M857 573.5h2M859 574.5h1M863 574.5h3M869 575.5h3M875 576.5h2M877 577.5h1M881 578.5h2M883 579.5h1M887 580.5h1M888 581.5h2M893 583.5h2M895 584.5h1M899 586.5h1M900 587.5h2M905 590.5h2M907 591.5h1M911 593.5h2M913 594.5h1M917 595.5h1M918 596.5h2M923 598.5h2M925 599.5h1M929 600.5h2M931 601.5h1M935 602.5h3M941 603.5h2M943 604.5h1M947 605.5h3M953 606.5h2M955 607.5h1M959 607.5h3M965 607.5h3M971 606.5h3M977 605.5h3M983 604.5h1M984 603.5h2M989 602.5h3M995 600.5h3M1001 598.5h2M1003 597.5h1M1007 595.5h3M1013 593.5h2M1015 592.5h1M1019 590.5h2M1021 589.5h1M1025 588.5h1M1026 587.5h2M1031 585.5h1M1032 584.5h2M1037 582.5h1M1038 581.5h2M1043 579.5h3M1049 577.5h3M1055 576.5h2M1057 575.5h1M1061 574.5h3M1067 573.5h3M1073 572.5h1M1074 571.5h2M1079 570.5h3M1085 568.5h3M1091 567.5h1M1092 566.5h2M1097 565.5h3M1103 564.5h1M1104 563.5h2M1109 562.5h3M1115 561.5h2M1117 560.5h1M1121 559.5h3M1127 557.5h3M1133 555.5h3M1139 554.5h1M1140 553.5h2M1145 552.5h3M1151 552.5h3M1157 551.5h3M1163 551.5h3M1169 551.5h3M1175 551.5h3M1181 551.5h1M1182 552.5h2M1187 552.5h2M1189 553.5h1M1193 553.5h2M1195 554.5h1M1199 555.5h3M1205 556.5h2M1207 557.5h1M1211 558.5h1M1212 559.5h2M1217 561.5h2M1219 562.5h1M1223 563.5h3M1229 564.5h2M1231 565.5h1M1235 566.5h3M1241 568.5h3M1247 570.5h3M1253 571.5h1M1254 572.5h2M1259 573.5h3M1265 574.5h1M1266 575.5h2M1271 576.5h2M1273 577.5h1M1277 578.5h3M1283 579.5h3M1289 580.5h1M1290 581.5h2M1295 582.5h3M1301 583.5h1M1302 584.5h2M1307 586.5h2M1309 587.5h1M1313 589.5h2M1315 590.5h1M1319 592.5h2M1321 593.5h1M1325 595.5h2M1327 596.5h1M1331 598.5h1M1332 599.5h2M1337 602.5h2M1339 603.5h1M1343 605.5h1M1344 606.5h1M1345 607.5h1M1349 609.5h1M1350 610.5h2M1355 613.5h2M1357 614.5h1M1361 617.5h2M1363 618.5h1M1367 621.5h1M1368 622.5h2M1373 625.5h1M1374 626.5h1M1375 627.5h1M1379 629.5h2M1381 630.5h1M1385 632.5h2M1387 633.5h1M1391 635.5h2M1393 636.5h1M1397 638.5h2M1399 639.5h1M1403 641.5h1M1404 642.5h2M1409 644.5h2M1411 645.5h1M1415 647.5h2M1417 648.5h1M1421 649.5h1M1422 650.5h2M1427 651.5h2M1429 652.5h1M1433 653.5h3M1439 654.5h1M1440 655.5h2M1445 656.5h3M1451 657.5h3M1457 657.5h3M1463 656.5h3M1469 655.5h2M1471 654.5h1M1475 653.5h1M1476 652.5h2M1481 650.5h1M1482 649.5h2M1487 648.5h1M1488 647.5h2M1493 645.5h2M1495 644.5h1M1499 642.5h3M1505 640.5h1M1506 639.5h2M1511 637.5h3M1517 635.5h3M1523 633.5h3M1529 632.5h2M1531 631.5h1M1535 631.5h3M1541 631.5h3M1547 631.5h3M1553 631.5h3M1559 631.5h3M1565 631.5h3M1571 631.5h3M1577 630.5h3M1583 629.5h3M1589 628.5h3M1595 626.5h3M1601 625.5h2M1603 624.5h1M1607 624.5h1M1608 623.5h2M1613 622.5h3M1619 620.5h3M1625 618.5h2M1627 617.5h1M1631 616.5h2M1633 615.5h1M1637 614.5h1M1638 613.5h2M1643 611.5h1M1644 610.5h2M1649 607.5h1M1650 606.5h2M1655 603.5h2M1657 602.5h1" fill="none" stroke="#FF0000" stroke-width="1" shape-rendering="crispEdges"/>
</g>
<g clip-path="url(#c3)">
<g shape-rendering="crispEdges"><line x1="6" x2="1685" y1="702.5" y2="702.5" stroke="#C0C0C0" stroke-width="1" stroke-dasharray="3 3"/><line x1="6" x2="1685" y1="742.5" y2="742.5" stroke="#C0C0C0" stroke-width="1" stroke-dasharray="3 3"/></g>
<path d="M5 730.5h1M6 731.5h1M7.5 732v2M8 734.5h1M9.5 735v2M10 737.5h1M11 738.5h1M12.5 739v2M13 741.5h5M18 742.5h5M23 741.5h3M26 740.5h4M30 739.5h1M31 738.5h2M33 737.5h2M35 736.5h2M37 735.5h2M39 734.5h2M41 733.5h2M43 732.5h2M45 731.5h1M46 732.5h2M48 733.5h1M49 734.5h2M51 735.5h1M52 736.5h6M58 735.5h5M63 734.5h4M67 733.5h7M74 734.5h7M81 735.5h5M86 734.5h2M88 733.5h2M90 732.5h1M91 731.5h2M93 730.5h1M94 729.5h1M95 728.5h1M96 727.5h1M97 726.5h1M98 725.5h1M99 724.5h1M100 723.5h1M101 722.5h2M103 723.5h4M107 724.5h4M111 723.5h2M113 722.5h2M115 721.5h2M117 720.5h4M121 721.5h9M130 720.5h13M143 719.5h4M147 718.5h4M151 719.5h3M154 720.5h2M156 721.5h2M158 720.5h1M159 719.5h2M161 718.5h1M162 717.5h1M163 716.5h1M164 715.5h1M165 714.5h2M167 713.5h2M169 712.5h3M172 711.5h3M175 712.5h1M176 713.5h1M177 714.5h1M178 715.5h2M180 716.5h1M181 717.5h4M185 716.5h7M192 715.5h7M199 714.5h4M203 713.5h12M215 714.5h2M217 715.5h2M219 716.5h2M221 717.5h1M222 718.5h2M224 719.5h1M225 720.5h2M227 721.5h2M229 722.5h4M233 723.5h9M242 722.5h4M246 723.5h1M247 724.5h1M248 725.5h1M249 726.5h2M251 727.5h1M252 728.5h1M253 729.5h1M254 728.5h1M255 727.5h1M256 726.5h2M258 725.5h1M259 724.5h1M260 723.5h1M261 722.5h2M263 723.5h4M267 724.5h7M274 723.5h4M278 724.5h2M280 725.5h2M282 726.5h2M284 727.5h3M287 726.5h2M289 725.5h2M291 724.5h2M293 723.5h4M297 724.5h6M303 725.5h4M307 726.5h3M310 725.5h1M311 724.5h2M313 723.5h1M314 722.5h1M315 721.5h1M316 720.5h2M318 719.5h1M319 718.5h1M320 717.5h1M321 716.5h2M323 715.5h1M324 714.5h1M325 713.5h4M329 712.5h8M337 713.5h4M341 714.5h1M342 713.5h5M347 712.5h7M354 711.5h6M360 710.5h4M364 709.5h2M366 710.5h1M367 711.5h1M368 712.5h2M370 713.5h1M371 714.5h1M372 715.5h1M373 716.5h1M374 715.5h5M379 714.5h6M385 713.5h5M390 712.5h1M391 711.5h1M392 710.5h1M393 709.5h2M395 708.5h1M396 707.5h1M397 706.5h4M401 705.5h5M406 704.5h11M417 705.5h4M421 706.5h2M423 707.5h1M424 708.5h2M426 709.5h2M428 710.5h1M429 711.5h14M443 710.5h7M450 709.5h5M455 708.5h2M457 707.5h2M459 706.5h2M461 705.5h2M463 704.5h2M465 703.5h2M467 702.5h2M469 701.5h5M474 700.5h7M481 701.5h5M486 700.5h1M487.5 698v2M488 697.5h1M489 696.5h1M490.5 694v2M491 693.5h1M492 692.5h1M493 691.5h2M495 690.5h10M505 691.5h3M508 692.5h5M513 691.5h5M518 690.5h4M522 689.5h4M526 688.5h5M531 687.5h3M534 688.5h1M535 689.5h1M536 690.5h2M538 691.5h1M539 692.5h1M540 693.5h1M541 694.5h10M551 693.5h2M553 692.5h3M556 691.5h9M565 692.5h1M566 693.5h1M567 694.5h1M568 695.5h1M569 696.5h1M570 697.5h1M571 698.5h1M572 699.5h1M573 700.5h1M574 699.5h1M575 698.5h1M576 697.5h1M577 696.5h1M578 695.5h1M579 694.5h1M580 693.5h1M581 692.5h12M593 691.5h7M600 690.5h9M609 689.5h5M614 688.5h2M616 687.5h2M618 686.5h2M620 685.5h10M630 684.5h4M634 683.5h6M640 682.5h7M647 681.5h2M649 680.5h3M652 679.5h2M654 680.5h2M656 681.5h1M657 682.5h1M658 683.5h1M659 684.5h1M660 685.5h1M661 686.5h1M662 685.5h4M666 684.5h4M670 683.5h5M675 682.5h3M678 683.5h1M679 684.5h1M680 685.5h1M681 686.5h1M682.5 687v2M683 689.5h1M684 690.5h1M685.5 691v2M686.5 693v2M687.5 695v3M688.5 698v2M689.5 700v2M690.5 702v2M691.5 704v3M692.5 707v2M693 709.5h12M705 708.5h5M710.5 709v2M711 711.5h1M712 712.5h1M713.5 713v2M714 715.5h1M715.5 716v2M716 718.5h1M717 719.5h2M719 718.5h2M721 717.5h2M723 716.5h2M725 715.5h2M727 714.5h2M729 713.5h2M731 712.5h5M736 713.5h2M738 714.5h2M740 715.5h2M742 716.5h1M743 717.5h2M745 718.5h1M746 719.5h2M748 720.5h1M749 721.5h9M758 720.5h5M763 719.5h5M768 718.5h4M772 717.5h2M774 718.5h2M776 719.5h1M777 720.5h1M778 721.5h2M780 722.5h1M781 723.5h1M782 722.5h1M783 721.5h2M785 720.5h1M786 719.5h1M787 718.5h2M789 717.5h2M791 718.5h2M793 719.5h3M796 720.5h2M798 719.5h2M800 718.5h2M802 717.5h2M804 716.5h5M809 717.5h4M813 718.5h3M816 717.5h9M825 716.5h5M830 717.5h1M831 718.5h1M832 719.5h2M834 720.5h1M835 721.5h1M836 722.5h1M837 723.5h2M839 722.5h3M842 721.5h2M844 720.5h2M846 721.5h2M848 722.5h2M850 723.5h2M852 724.5h1M853 725.5h2M855 726.5h1M856 727.5h2M858 728.5h1M859 729.5h2M861 730.5h5M866 729.5h3M869.5 729v2M870.5 731v2M871.5 733v2M872.5 735v2M873.5 737v2M874.5 739v2M875.5 741v2M876.5 743v2M877 745.5h17M894 744.5h1M895.5 742v2M896 741.5h1M897 740.5h1M898 739.5h1M899.5 737v2M900 736.5h1M901 735.5h4M905 736.5h6M911 735.5h1M912 734.5h2M914 733.5h1M915 732.5h2M917 731.5h1M918 732.5h2M920 733.5h2M922 734.5h2M924 735.5h6M930 734.5h5M935 735.5h4M939 736.5h4M943 735.5h2M945 734.5h2M947 733.5h2M949 732.5h4M953 733.5h6M959 732.5h1M960 731.5h2M962 730.5h1M963 729.5h2M965.5 727v2M966 726.5h1M967.5 724v2M968.5 722v2M969.5 720v2M970.5 718v2M971 717.5h1M972.5 715v2M973 714.5h2M975 715.5h3M978 716.5h2M980 717.5h2M982 716.5h1M983 715.5h2M985 714.5h1M986 713.5h1M987 712.5h1M988 711.5h5M993 712.5h4M997 713.5h3M1000 714.5h4M1004 715.5h3M1007 714.5h4M1011 713.5h13M1024 714.5h4M1028 715.5h3M1031 716.5h4M1035 717.5h5M1040 716.5h4M1044 715.5h3M1047 716.5h4M1051 717.5h3M1054 716.5h2M1056 715.5h2M1058 714.5h1M1059 713.5h2M1061 712.5h1M1062 711.5h2M1064 710.5h1M1065 709.5h2M1067 708.5h1M1068 707.5h2M1070 706.5h2M1072 705.5h2M1074 704.5h2M1076 703.5h11M1087 704.5h3M1090 705.5h2M1092 706.5h6M1098 705.5h5M1103 704.5h2M1105 703.5h2M1107 702.5h2M1109.5 701v2M1110 703.5h1M1111.5 704v2M1112.5 706v2M1113 708.5h1M1114.5 709v2M1115 711.5h1M1116.5 712v2M1117 714.5h1M1118 713.5h1M1119 712.5h2M1121 711.5h1M1122 710.5h1M1123 709.5h1M1124 708.5h2M1126 707.5h2M1128 706.5h2M1130 705.5h2M1132 704.5h2M1134 705.5h1M1135 706.5h1M1136 707.5h1M1137 708.5h1M1138 709.5h1M1139 710.5h1M1140 711.5h1M1141 712.5h10M1151 713.5h2M1153 714.5h3M1156 715.5h2M1158 716.5h2M1160 717.5h3M1163 718.5h2M1165 719.5h1M1166 718.5h2M1168 717.5h3M1171 716.5h2M1173 715.5h1M1174 716.5h2M1176 717.5h1M1177 718.5h2M1179 719.5h2M1181 720.5h10M1191 721.5h4M1195 722.5h12M1207 723.5h2M1209 724.5h3M1212 725.5h2M1214 726.5h2M1216 727.5h1M1217 728.5h2M1219 729.5h2M1221 730.5h1M1222 729.5h2M1224 728.5h2M1226 727.5h2M1228 726.5h2M1230 725.5h3M1233 724.5h2M1235 723.5h3M1238 722.5h3M1241 721.5h3M1244 720.5h6M1250 719.5h4M1254 720.5h1M1255 721.5h1M1256 722.5h1M1257 723.5h1M1258 724.5h2M1260 725.5h1M1261 726.5h1M1262 727.5h2M1264 728.5h1M1265 729.5h2M1267 730.5h1M1268 731.5h3M1271 730.5h3M1274 729.5h3M1277 728.5h2M1279 729.5h4M1283 730.5h4M1287 729.5h4M1291 728.5h5M1296 729.5h2M1298 730.5h3M1301.5 731v2M1302.5 733v2M1303.5 735v2M1304.5 737v2M1305.5 739v2M1306.5 741v2M1307.5 743v2M1308.5 745v2M1309 747.5h3M1312 746.5h4M1316 745.5h3M1319 744.5h3M1322 743.5h2M1324 742.5h3M1327 743.5h2M1329 744.5h3M1332 745.5h1M1333.5 744v2M1334 743.5h1M1335.5 741v2M1336 740.5h1M1337.5 738v2M1338 737.5h1M1339.5 735v2M1340 734.5h1M1341 733.5h4M1345 734.5h3M1348 735.5h2M1350 736.5h1M1351 737.5h1M1352 738.5h1M1353 739.5h1M1354 740.5h1M1355 741.5h1M1356 742.5h1M1357 743.5h2M1359 744.5h3M1362 745.5h2M1364 746.5h1M1365.5 745v2M1366 744.5h1M1367.5 742v2M1368.5 740v2M1369 739.5h1M1370.5 737v2M1371.5 735v2M1372 734.5h1M1373 733.5h6M1379 734.5h4M1383 735.5h2M1385 736.5h3M1388 737.5h2M1390 738.5h1M1391 739.5h1M1392 740.5h1M1393 741.5h1M1394 742.5h1M1395 743.5h1M1396 744.5h1M1397 745.5h1M1398 744.5h1M1399.5 742v2M1400 741.5h1M1401 740.5h1M1402 739.5h1M1403.5 737v2M1404 736.5h1M1405 735.5h4M1409 734.5h17M1426 735.5h5M1431 736.5h4M1435 737.5h5M1440 738.5h5M1445.5 738v2M1446.5 736v2M1447 735.5h1M1448.5 733v2M1449 732.5h1M1450.5 730v2M1451.5 728v2M1452 727.5h1M1453 726.5h10M1463 725.5h13M1476 726.5h3M1479 727.5h1M1480 728.5h2M1482 729.5h2M1484 730.5h1M1485 731.5h1M1486 730.5h2M1488 729.5h2M1490 728.5h2M1492 727.5h3M1495 728.5h2M1497 729.5h2M1499 730.5h2M1501 731.5h13M1514 730.5h4M1518 731.5h2M1520 732.5h1M1521 733.5h2M1523 734.5h2M1525 735.5h1M1526 734.5h2M1528 733.5h2M1530 732.5h2M1532 731.5h5M1537 732.5h4M1541 733.5h2M1543 732.5h5M1548 731.5h3M1551 732.5h5M1556 733.5h4M1560 732.5h7M1567 731.5h3M1570 730.5h2M1572 729.5h2M1574 728.5h1M1575 727.5h1M1576 726.5h2M1578 725.5h1M1579 724.5h1M1580 723.5h1M1581 722.5h2M1583 723.5h4M1587 724.5h4M1591 725.5h2M1593 726.5h3M1596 727.5h3M1599 728.5h4M1603 729.5h4M1607 728.5h2M1609 727.5h3M1612 726.5h4M1616 725.5h11M1627 726.5h4M1631 725.5h6M1637.5 724v2M1638.5 722v2M1639 721.5h1M1640.5 719v2M1641.5 717v2M1642 716.5h1M1643.5 714v2M1644 713.5h1M1645 712.5h1M1646 711.5h4M1650 710.5h4M1654 709.5h4M1658 708.5h4" fill="none" stroke="#1E90FF" stroke-width="1" shape-rendering="crispEdges"/>
</g>
</svg></body></html>
